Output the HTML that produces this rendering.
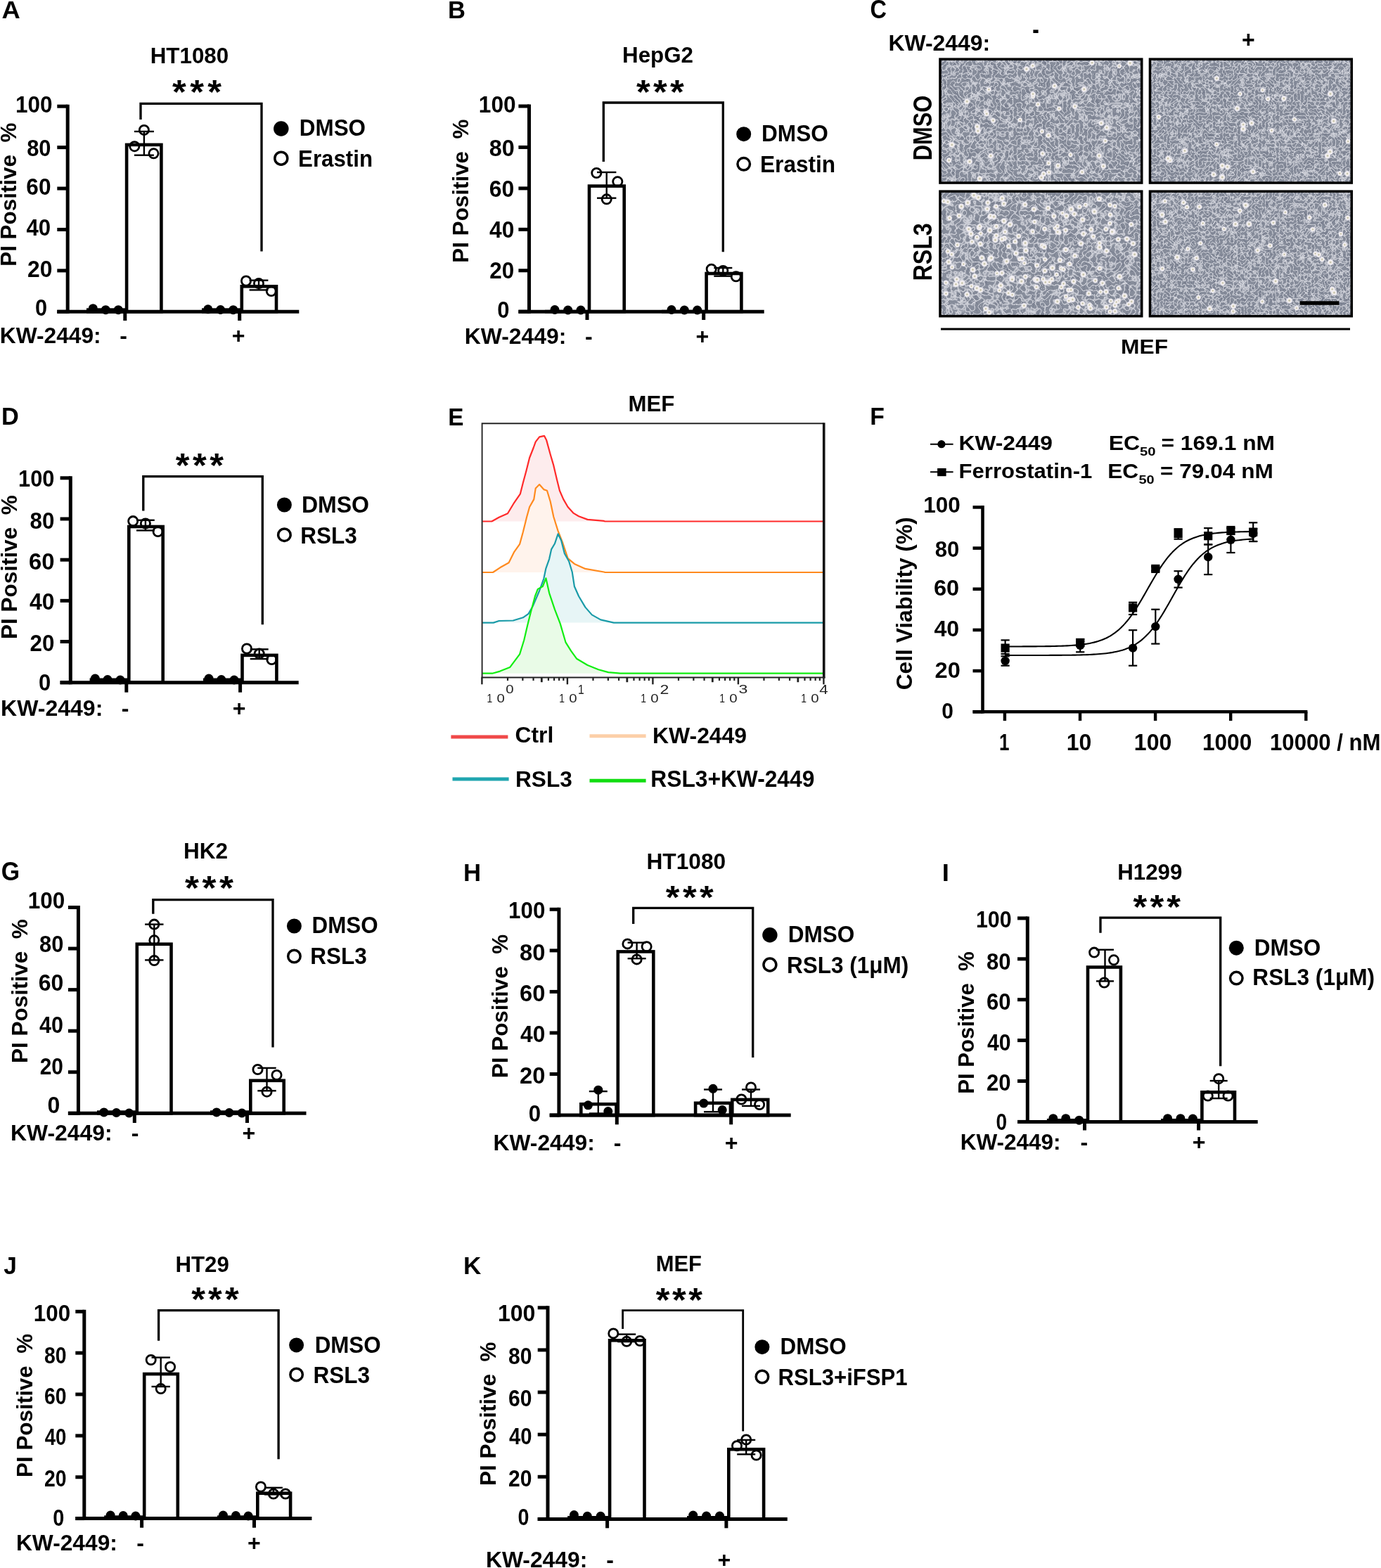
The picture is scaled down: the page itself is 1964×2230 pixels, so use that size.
<!DOCTYPE html>
<html><head><meta charset="utf-8"><title>Figure</title>
<style>html,body{margin:0;padding:0;background:#fff;} svg{display:block;} text{font-family:"Liberation Sans", Arial, sans-serif;}</style>
</head><body>
<svg width="1964" height="2230" viewBox="0 0 1964 2230">
<rect x="0" y="0" width="1964" height="2230" fill="#fff"/>
<defs><radialGradient id="rc"><stop offset="0" stop-color="#a8a592"/><stop offset="0.3" stop-color="#e8e4d4"/><stop offset="0.55" stop-color="#f7f4f6"/><stop offset="0.75" stop-color="#ece8f2" stop-opacity="0.8"/><stop offset="1" stop-color="#ffffff" stop-opacity="0"/></radialGradient><filter id="tex" x="0" y="0" width="100%" height="100%" filterUnits="objectBoundingBox" color-interpolation-filters="sRGB">
  <feTurbulence type="turbulence" baseFrequency="0.17" numOctaves="1" seed="3" result="t"/>
  <feColorMatrix in="t" type="matrix" values="0 0 0 0 0.94  0 0 0 0 0.94  0 0 0 0 0.96  -4 0 0 0 0.72" result="w"/>
  <feTurbulence type="turbulence" baseFrequency="0.17" numOctaves="1" seed="4" result="t2"/>
  <feColorMatrix in="t2" type="matrix" values="0 0 0 0 0.40  0 0 0 0 0.42  0 0 0 0 0.50  -4.5 0 0 0 0.42" result="k"/>
  <feFlood flood-color="#878d9b" result="bg"/>
  <feComposite in="k" in2="bg" operator="over" result="b1"/>
  <feComposite in="w" in2="b1" operator="over" result="b2"/>
  <feGaussianBlur in="b2" stdDeviation="0.7"/>
</filter><filter id="tex2" x="0" y="0" width="100%" height="100%" filterUnits="objectBoundingBox" color-interpolation-filters="sRGB">
  <feTurbulence type="turbulence" baseFrequency="0.2" numOctaves="1" seed="5" result="t"/>
  <feColorMatrix in="t" type="matrix" values="0 0 0 0 0.94  0 0 0 0 0.94  0 0 0 0 0.96  -4 0 0 0 0.72" result="w"/>
  <feTurbulence type="turbulence" baseFrequency="0.2" numOctaves="1" seed="6" result="t2"/>
  <feColorMatrix in="t2" type="matrix" values="0 0 0 0 0.40  0 0 0 0 0.42  0 0 0 0 0.50  -4.5 0 0 0 0.42" result="k"/>
  <feFlood flood-color="#878d9b" result="bg"/>
  <feComposite in="k" in2="bg" operator="over" result="b1"/>
  <feComposite in="w" in2="b1" operator="over" result="b2"/>
  <feGaussianBlur in="b2" stdDeviation="0.7"/>
</filter><filter id="tex3" x="0" y="0" width="100%" height="100%" filterUnits="objectBoundingBox" color-interpolation-filters="sRGB">
  <feTurbulence type="turbulence" baseFrequency="0.15" numOctaves="1" seed="7" result="t"/>
  <feColorMatrix in="t" type="matrix" values="0 0 0 0 0.94  0 0 0 0 0.94  0 0 0 0 0.96  -4 0 0 0 0.72" result="w"/>
  <feTurbulence type="turbulence" baseFrequency="0.15" numOctaves="1" seed="8" result="t2"/>
  <feColorMatrix in="t2" type="matrix" values="0 0 0 0 0.40  0 0 0 0 0.42  0 0 0 0 0.50  -4.5 0 0 0 0.42" result="k"/>
  <feFlood flood-color="#878d9b" result="bg"/>
  <feComposite in="k" in2="bg" operator="over" result="b1"/>
  <feComposite in="w" in2="b1" operator="over" result="b2"/>
  <feGaussianBlur in="b2" stdDeviation="0.7"/>
</filter><filter id="tex4" x="0" y="0" width="100%" height="100%" filterUnits="objectBoundingBox" color-interpolation-filters="sRGB">
  <feTurbulence type="turbulence" baseFrequency="0.2" numOctaves="1" seed="9" result="t"/>
  <feColorMatrix in="t" type="matrix" values="0 0 0 0 0.94  0 0 0 0 0.94  0 0 0 0 0.96  -4 0 0 0 0.72" result="w"/>
  <feTurbulence type="turbulence" baseFrequency="0.2" numOctaves="1" seed="10" result="t2"/>
  <feColorMatrix in="t2" type="matrix" values="0 0 0 0 0.40  0 0 0 0 0.42  0 0 0 0 0.50  -4.5 0 0 0 0.42" result="k"/>
  <feFlood flood-color="#878d9b" result="bg"/>
  <feComposite in="k" in2="bg" operator="over" result="b1"/>
  <feComposite in="w" in2="b1" operator="over" result="b2"/>
  <feGaussianBlur in="b2" stdDeviation="0.7"/>
</filter></defs>
<rect x="125.30" y="440.60" width="52.40" height="2.70" fill="#fff" stroke="#000" stroke-width="4.6"/>
<rect x="180.10" y="205.90" width="49.30" height="237.40" fill="#fff" stroke="#000" stroke-width="4.6"/>
<rect x="289.30" y="440.60" width="51.90" height="2.70" fill="#fff" stroke="#000" stroke-width="4.6"/>
<rect x="343.80" y="407.30" width="49.20" height="36.00" fill="#fff" stroke="#000" stroke-width="4.6"/>
<line x1="96.20" y1="148.70" x2="96.20" y2="445.80" stroke="#000" stroke-width="5.0" stroke-linecap="butt"/>
<line x1="81.30" y1="443.30" x2="425.30" y2="443.30" stroke="#000" stroke-width="5.0" stroke-linecap="butt"/>
<line x1="81.30" y1="443.30" x2="96.20" y2="443.30" stroke="#000" stroke-width="5.0" stroke-linecap="butt"/>
<line x1="81.30" y1="384.88" x2="96.20" y2="384.88" stroke="#000" stroke-width="5.0" stroke-linecap="butt"/>
<line x1="81.30" y1="326.46" x2="96.20" y2="326.46" stroke="#000" stroke-width="5.0" stroke-linecap="butt"/>
<line x1="81.30" y1="268.04" x2="96.20" y2="268.04" stroke="#000" stroke-width="5.0" stroke-linecap="butt"/>
<line x1="81.30" y1="209.62" x2="96.20" y2="209.62" stroke="#000" stroke-width="5.0" stroke-linecap="butt"/>
<line x1="81.30" y1="151.20" x2="96.20" y2="151.20" stroke="#000" stroke-width="5.0" stroke-linecap="butt"/>
<line x1="177.80" y1="443.30" x2="177.80" y2="456.00" stroke="#000" stroke-width="5.0" stroke-linecap="butt"/>
<line x1="340.70" y1="443.30" x2="340.70" y2="456.00" stroke="#000" stroke-width="5.0" stroke-linecap="butt"/>
<line x1="204.90" y1="187.00" x2="204.90" y2="220.70" stroke="#000" stroke-width="2.4" stroke-linecap="butt"/>
<line x1="190.90" y1="187.00" x2="218.90" y2="187.00" stroke="#000" stroke-width="2.4" stroke-linecap="butt"/>
<line x1="190.90" y1="220.70" x2="218.90" y2="220.70" stroke="#000" stroke-width="2.4" stroke-linecap="butt"/>
<line x1="368.00" y1="398.70" x2="368.00" y2="412.40" stroke="#000" stroke-width="2.4" stroke-linecap="butt"/>
<line x1="354.60" y1="398.70" x2="381.40" y2="398.70" stroke="#000" stroke-width="2.4" stroke-linecap="butt"/>
<line x1="354.60" y1="412.40" x2="381.40" y2="412.40" stroke="#000" stroke-width="2.4" stroke-linecap="butt"/>
<circle cx="132.30" cy="438.70" r="6.50" fill="#000" stroke="none" stroke-width="0"/>
<circle cx="150.30" cy="440.70" r="6.50" fill="#000" stroke="none" stroke-width="0"/>
<circle cx="168.30" cy="440.70" r="6.50" fill="#000" stroke="none" stroke-width="0"/>
<circle cx="295.80" cy="439.80" r="6.50" fill="#000" stroke="none" stroke-width="0"/>
<circle cx="313.60" cy="440.50" r="6.50" fill="#000" stroke="none" stroke-width="0"/>
<circle cx="331.70" cy="440.70" r="6.50" fill="#000" stroke="none" stroke-width="0"/>
<circle cx="204.90" cy="184.90" r="6.60" fill="none" stroke="#000" stroke-width="2.8"/>
<circle cx="191.30" cy="208.20" r="6.60" fill="none" stroke="#000" stroke-width="2.8"/>
<circle cx="218.50" cy="218.30" r="6.60" fill="none" stroke="#000" stroke-width="2.8"/>
<circle cx="350.00" cy="399.50" r="6.60" fill="none" stroke="#000" stroke-width="2.8"/>
<circle cx="368.00" cy="403.10" r="6.60" fill="none" stroke="#000" stroke-width="2.8"/>
<circle cx="385.80" cy="414.10" r="6.60" fill="none" stroke="#000" stroke-width="2.8"/>
<polyline points="200.00,170.00 200.00,147.30 372.00,147.30 372.00,357.50" fill="none" stroke="#000" stroke-width="3.3" stroke-linejoin="miter"/>
<text transform="translate(245.10,147.02) scale(1.0476,1)" font-size="48.38" font-weight="bold" fill="#000">*</text>
<text transform="translate(270.20,147.02) scale(1.0476,1)" font-size="48.38" font-weight="bold" fill="#000">*</text>
<text transform="translate(295.30,147.02) scale(1.0476,1)" font-size="48.38" font-weight="bold" fill="#000">*</text>
<text transform="translate(21.93,159.99) scale(0.9631,1)" font-size="32.70" font-weight="bold" fill="#000">100</text>
<text transform="translate(38.14,221.84) scale(0.9434,1)" font-size="32.70" font-weight="bold" fill="#000">80</text>
<text transform="translate(37.31,276.99) scale(0.9669,1)" font-size="32.70" font-weight="bold" fill="#000">60</text>
<text transform="translate(37.50,334.89) scale(0.9530,1)" font-size="32.70" font-weight="bold" fill="#000">40</text>
<text transform="translate(39.11,394.14) scale(0.9728,1)" font-size="32.70" font-weight="bold" fill="#000">20</text>
<text transform="translate(49.94,449.24) scale(0.9407,1)" font-size="32.70" font-weight="bold" fill="#000">0</text>
<circle cx="399.80" cy="183.00" r="10.75" fill="#000" stroke="none" stroke-width="0"/>
<circle cx="399.80" cy="225.20" r="9.00" fill="none" stroke="#000" stroke-width="3.5"/>
<text transform="translate(425.84,192.79) scale(0.9695,1)" font-size="32.40" font-weight="bold" fill="#000">DMSO</text>
<text transform="translate(424.05,237.49) scale(0.9647,1)" font-size="32.40" font-weight="bold" fill="#000">Erastin</text>
<text transform="translate(213.64,90.17) scale(0.9837,1)" font-size="31.90" font-weight="bold" fill="#000">HT1080</text>
<text transform="translate(2.43,25.80) scale(1.0310,1)" font-size="35.27" font-weight="bold" fill="#000">A</text>
<text transform="translate(-0.28,487.78) scale(0.9890,1)" font-size="32.10" font-weight="bold" fill="#000">KW-2449:</text>
<text transform="translate(170.23,487.78)" font-size="32.10" font-weight="bold" fill="#000">-</text>
<text transform="translate(329.72,487.78)" font-size="32.10" font-weight="bold" fill="#000">+</text>
<text transform="translate(22.80,378.76) rotate(-90) scale(0.9814,1)" font-size="32.00" font-weight="bold" fill="#000">PI&#160;Positive&#160;&#160;%</text>
<rect x="777.30" y="443.10" width="58.40" height="0.10" fill="#fff" stroke="#000" stroke-width="4.6"/>
<rect x="838.00" y="264.60" width="49.70" height="178.60" fill="#fff" stroke="#000" stroke-width="4.6"/>
<rect x="943.30" y="443.10" width="58.40" height="0.10" fill="#fff" stroke="#000" stroke-width="4.6"/>
<rect x="1004.60" y="389.00" width="49.80" height="54.20" fill="#fff" stroke="#000" stroke-width="4.6"/>
<line x1="752.50" y1="148.50" x2="752.50" y2="445.70" stroke="#000" stroke-width="5.0" stroke-linecap="butt"/>
<line x1="737.40" y1="443.20" x2="1086.70" y2="443.20" stroke="#000" stroke-width="5.0" stroke-linecap="butt"/>
<line x1="737.40" y1="443.20" x2="752.50" y2="443.20" stroke="#000" stroke-width="5.0" stroke-linecap="butt"/>
<line x1="737.40" y1="384.76" x2="752.50" y2="384.76" stroke="#000" stroke-width="5.0" stroke-linecap="butt"/>
<line x1="737.40" y1="326.32" x2="752.50" y2="326.32" stroke="#000" stroke-width="5.0" stroke-linecap="butt"/>
<line x1="737.40" y1="267.88" x2="752.50" y2="267.88" stroke="#000" stroke-width="5.0" stroke-linecap="butt"/>
<line x1="737.40" y1="209.44" x2="752.50" y2="209.44" stroke="#000" stroke-width="5.0" stroke-linecap="butt"/>
<line x1="737.40" y1="151.00" x2="752.50" y2="151.00" stroke="#000" stroke-width="5.0" stroke-linecap="butt"/>
<line x1="835.00" y1="443.20" x2="835.00" y2="455.00" stroke="#000" stroke-width="5.0" stroke-linecap="butt"/>
<line x1="1000.70" y1="443.20" x2="1000.70" y2="455.00" stroke="#000" stroke-width="5.0" stroke-linecap="butt"/>
<line x1="862.70" y1="245.00" x2="862.70" y2="281.70" stroke="#000" stroke-width="2.4" stroke-linecap="butt"/>
<line x1="849.00" y1="245.00" x2="876.40" y2="245.00" stroke="#000" stroke-width="2.4" stroke-linecap="butt"/>
<line x1="849.00" y1="281.70" x2="876.40" y2="281.70" stroke="#000" stroke-width="2.4" stroke-linecap="butt"/>
<line x1="1028.30" y1="381.00" x2="1028.30" y2="392.70" stroke="#000" stroke-width="2.4" stroke-linecap="butt"/>
<line x1="1015.30" y1="381.00" x2="1041.30" y2="381.00" stroke="#000" stroke-width="2.4" stroke-linecap="butt"/>
<line x1="1015.30" y1="392.70" x2="1041.30" y2="392.70" stroke="#000" stroke-width="2.4" stroke-linecap="butt"/>
<circle cx="789.00" cy="440.50" r="6.50" fill="#000" stroke="none" stroke-width="0"/>
<circle cx="807.70" cy="441.00" r="6.50" fill="#000" stroke="none" stroke-width="0"/>
<circle cx="826.00" cy="441.00" r="6.50" fill="#000" stroke="none" stroke-width="0"/>
<circle cx="955.00" cy="440.50" r="6.50" fill="#000" stroke="none" stroke-width="0"/>
<circle cx="973.30" cy="441.00" r="6.50" fill="#000" stroke="none" stroke-width="0"/>
<circle cx="991.70" cy="441.00" r="6.50" fill="#000" stroke="none" stroke-width="0"/>
<circle cx="848.30" cy="246.00" r="6.60" fill="none" stroke="#000" stroke-width="2.8"/>
<circle cx="878.30" cy="258.30" r="6.60" fill="none" stroke="#000" stroke-width="2.8"/>
<circle cx="862.70" cy="283.30" r="6.60" fill="none" stroke="#000" stroke-width="2.8"/>
<circle cx="1011.70" cy="382.70" r="6.60" fill="none" stroke="#000" stroke-width="2.8"/>
<circle cx="1028.30" cy="385.00" r="6.60" fill="none" stroke="#000" stroke-width="2.8"/>
<circle cx="1046.70" cy="393.30" r="6.60" fill="none" stroke="#000" stroke-width="2.8"/>
<polyline points="858.30,230.00 858.30,146.00 1028.30,146.00 1028.30,358.30" fill="none" stroke="#000" stroke-width="3.3" stroke-linejoin="miter"/>
<text transform="translate(905.00,146.66) scale(1.0588,1)" font-size="47.87" font-weight="bold" fill="#000">*</text>
<text transform="translate(929.00,146.66) scale(1.0588,1)" font-size="47.87" font-weight="bold" fill="#000">*</text>
<text transform="translate(953.00,146.66) scale(1.0588,1)" font-size="47.87" font-weight="bold" fill="#000">*</text>
<text transform="translate(680.82,159.89) scale(0.9670,1)" font-size="32.70" font-weight="bold" fill="#000">100</text>
<text transform="translate(695.79,222.14) scale(0.9904,1)" font-size="32.70" font-weight="bold" fill="#000">80</text>
<text transform="translate(695.70,279.54) scale(0.9787,1)" font-size="32.70" font-weight="bold" fill="#000">60</text>
<text transform="translate(696.00,337.94) scale(0.9701,1)" font-size="32.70" font-weight="bold" fill="#000">40</text>
<text transform="translate(696.32,396.24) scale(0.9611,1)" font-size="32.70" font-weight="bold" fill="#000">20</text>
<text transform="translate(707.33,451.59) scale(0.9470,1)" font-size="32.70" font-weight="bold" fill="#000">0</text>
<circle cx="1057.70" cy="190.70" r="10.50" fill="#000" stroke="none" stroke-width="0"/>
<circle cx="1057.70" cy="233.30" r="8.75" fill="none" stroke="#000" stroke-width="3.5"/>
<text transform="translate(1083.02,201.29) scale(0.9759,1)" font-size="32.40" font-weight="bold" fill="#000">DMSO</text>
<text transform="translate(1081.02,245.49) scale(0.9760,1)" font-size="32.40" font-weight="bold" fill="#000">Erastin</text>
<text transform="translate(885.04,89.28) scale(0.9817,1)" font-size="31.90" font-weight="bold" fill="#000">HepG2</text>
<text transform="translate(637.04,25.80) scale(0.9720,1)" font-size="35.56" font-weight="bold" fill="#000">B</text>
<text transform="translate(660.71,488.53) scale(0.9932,1)" font-size="32.10" font-weight="bold" fill="#000">KW-2449:</text>
<text transform="translate(832.03,488.53)" font-size="32.10" font-weight="bold" fill="#000">-</text>
<text transform="translate(989.52,488.53)" font-size="32.10" font-weight="bold" fill="#000">+</text>
<text transform="translate(666.20,373.66) rotate(-90) scale(0.9809,1)" font-size="32.00" font-weight="bold" fill="#000">PI&#160;Positive&#160;&#160;%</text>
<rect x="129.90" y="966.80" width="50.80" height="3.90" fill="#fff" stroke="#000" stroke-width="4.6"/>
<rect x="183.30" y="749.00" width="48.40" height="221.70" fill="#fff" stroke="#000" stroke-width="4.6"/>
<rect x="291.30" y="966.80" width="50.40" height="3.90" fill="#fff" stroke="#000" stroke-width="4.6"/>
<rect x="344.50" y="931.90" width="48.90" height="38.80" fill="#fff" stroke="#000" stroke-width="4.6"/>
<line x1="100.30" y1="677.30" x2="100.30" y2="973.20" stroke="#000" stroke-width="5.0" stroke-linecap="butt"/>
<line x1="85.60" y1="970.70" x2="424.70" y2="970.70" stroke="#000" stroke-width="5.0" stroke-linecap="butt"/>
<line x1="85.60" y1="970.70" x2="100.30" y2="970.70" stroke="#000" stroke-width="5.0" stroke-linecap="butt"/>
<line x1="85.60" y1="912.52" x2="100.30" y2="912.52" stroke="#000" stroke-width="5.0" stroke-linecap="butt"/>
<line x1="85.60" y1="854.34" x2="100.30" y2="854.34" stroke="#000" stroke-width="5.0" stroke-linecap="butt"/>
<line x1="85.60" y1="796.16" x2="100.30" y2="796.16" stroke="#000" stroke-width="5.0" stroke-linecap="butt"/>
<line x1="85.60" y1="737.98" x2="100.30" y2="737.98" stroke="#000" stroke-width="5.0" stroke-linecap="butt"/>
<line x1="85.60" y1="679.80" x2="100.30" y2="679.80" stroke="#000" stroke-width="5.0" stroke-linecap="butt"/>
<line x1="179.80" y1="970.70" x2="179.80" y2="984.70" stroke="#000" stroke-width="5.0" stroke-linecap="butt"/>
<line x1="341.60" y1="970.70" x2="341.60" y2="984.70" stroke="#000" stroke-width="5.0" stroke-linecap="butt"/>
<line x1="206.90" y1="739.80" x2="206.90" y2="754.40" stroke="#000" stroke-width="2.4" stroke-linecap="butt"/>
<line x1="194.00" y1="739.80" x2="219.80" y2="739.80" stroke="#000" stroke-width="2.4" stroke-linecap="butt"/>
<line x1="194.00" y1="754.40" x2="219.80" y2="754.40" stroke="#000" stroke-width="2.4" stroke-linecap="butt"/>
<line x1="368.70" y1="923.40" x2="368.70" y2="937.10" stroke="#000" stroke-width="2.4" stroke-linecap="butt"/>
<line x1="355.70" y1="923.40" x2="381.70" y2="923.40" stroke="#000" stroke-width="2.4" stroke-linecap="butt"/>
<line x1="355.70" y1="937.10" x2="381.70" y2="937.10" stroke="#000" stroke-width="2.4" stroke-linecap="butt"/>
<circle cx="135.30" cy="965.00" r="6.50" fill="#000" stroke="none" stroke-width="0"/>
<circle cx="153.00" cy="966.50" r="6.50" fill="#000" stroke="none" stroke-width="0"/>
<circle cx="171.00" cy="967.00" r="6.50" fill="#000" stroke="none" stroke-width="0"/>
<circle cx="297.00" cy="965.00" r="6.50" fill="#000" stroke="none" stroke-width="0"/>
<circle cx="314.80" cy="966.50" r="6.50" fill="#000" stroke="none" stroke-width="0"/>
<circle cx="333.00" cy="967.00" r="6.50" fill="#000" stroke="none" stroke-width="0"/>
<circle cx="189.20" cy="741.10" r="6.60" fill="none" stroke="#000" stroke-width="2.8"/>
<circle cx="206.90" cy="744.50" r="6.60" fill="none" stroke="#000" stroke-width="2.8"/>
<circle cx="224.60" cy="756.00" r="6.60" fill="none" stroke="#000" stroke-width="2.8"/>
<circle cx="351.00" cy="922.50" r="6.60" fill="none" stroke="#000" stroke-width="2.8"/>
<circle cx="368.70" cy="929.60" r="6.60" fill="none" stroke="#000" stroke-width="2.8"/>
<circle cx="386.40" cy="938.00" r="6.60" fill="none" stroke="#000" stroke-width="2.8"/>
<polyline points="203.80,726.40 203.80,677.60 373.30,677.60 373.30,888.20" fill="none" stroke="#000" stroke-width="3.3" stroke-linejoin="miter"/>
<text transform="translate(249.80,677.66) scale(1.0588,1)" font-size="47.87" font-weight="bold" fill="#000">*</text>
<text transform="translate(274.00,677.66) scale(1.0588,1)" font-size="47.87" font-weight="bold" fill="#000">*</text>
<text transform="translate(298.20,677.66) scale(1.0588,1)" font-size="47.87" font-weight="bold" fill="#000">*</text>
<text transform="translate(26.08,691.79) scale(0.9416,1)" font-size="32.70" font-weight="bold" fill="#000">100</text>
<text transform="translate(42.62,751.69) scale(0.9581,1)" font-size="32.70" font-weight="bold" fill="#000">80</text>
<text transform="translate(40.97,810.09) scale(1.0051,1)" font-size="32.70" font-weight="bold" fill="#000">60</text>
<text transform="translate(42.00,866.84) scale(0.9758,1)" font-size="32.70" font-weight="bold" fill="#000">40</text>
<text transform="translate(42.62,926.14) scale(0.9581,1)" font-size="32.70" font-weight="bold" fill="#000">20</text>
<text transform="translate(55.03,981.69) scale(0.9470,1)" font-size="32.70" font-weight="bold" fill="#000">0</text>
<circle cx="404.40" cy="718.00" r="10.50" fill="#000" stroke="none" stroke-width="0"/>
<circle cx="404.40" cy="760.70" r="8.75" fill="none" stroke="#000" stroke-width="3.5"/>
<text transform="translate(428.90,729.04) scale(0.9897,1)" font-size="32.40" font-weight="bold" fill="#000">DMSO</text>
<text transform="translate(427.33,772.54) scale(0.9714,1)" font-size="32.40" font-weight="bold" fill="#000">RSL3</text>
<text transform="translate(2.05,603.80) scale(0.9753,1)" font-size="35.27" font-weight="bold" fill="#000">D</text>
<text transform="translate(1.00,1018.18) scale(0.9982,1)" font-size="32.10" font-weight="bold" fill="#000">KW-2449:</text>
<text transform="translate(172.73,1018.18)" font-size="32.10" font-weight="bold" fill="#000">-</text>
<text transform="translate(330.72,1018.18)" font-size="32.10" font-weight="bold" fill="#000">+</text>
<text transform="translate(23.80,908.97) rotate(-90) scale(0.9838,1)" font-size="32.00" font-weight="bold" fill="#000">PI&#160;Positive&#160;&#160;%</text>
<rect x="140.30" y="1581.60" width="52.40" height="1.70" fill="#fff" stroke="#000" stroke-width="4.6"/>
<rect x="194.80" y="1342.70" width="48.70" height="240.60" fill="#fff" stroke="#000" stroke-width="4.6"/>
<rect x="301.30" y="1581.60" width="52.40" height="1.70" fill="#fff" stroke="#000" stroke-width="4.6"/>
<rect x="356.30" y="1536.80" width="47.40" height="46.50" fill="#fff" stroke="#000" stroke-width="4.6"/>
<line x1="111.40" y1="1288.00" x2="111.40" y2="1585.80" stroke="#000" stroke-width="5.0" stroke-linecap="butt"/>
<line x1="96.90" y1="1583.30" x2="435.50" y2="1583.30" stroke="#000" stroke-width="5.0" stroke-linecap="butt"/>
<line x1="96.90" y1="1583.30" x2="111.40" y2="1583.30" stroke="#000" stroke-width="5.0" stroke-linecap="butt"/>
<line x1="96.90" y1="1524.74" x2="111.40" y2="1524.74" stroke="#000" stroke-width="5.0" stroke-linecap="butt"/>
<line x1="96.90" y1="1466.18" x2="111.40" y2="1466.18" stroke="#000" stroke-width="5.0" stroke-linecap="butt"/>
<line x1="96.90" y1="1407.62" x2="111.40" y2="1407.62" stroke="#000" stroke-width="5.0" stroke-linecap="butt"/>
<line x1="96.90" y1="1349.06" x2="111.40" y2="1349.06" stroke="#000" stroke-width="5.0" stroke-linecap="butt"/>
<line x1="96.90" y1="1290.50" x2="111.40" y2="1290.50" stroke="#000" stroke-width="5.0" stroke-linecap="butt"/>
<line x1="191.30" y1="1583.30" x2="191.30" y2="1597.00" stroke="#000" stroke-width="5.0" stroke-linecap="butt"/>
<line x1="351.50" y1="1583.30" x2="351.50" y2="1597.00" stroke="#000" stroke-width="5.0" stroke-linecap="butt"/>
<line x1="219.30" y1="1314.60" x2="219.30" y2="1365.40" stroke="#000" stroke-width="2.4" stroke-linecap="butt"/>
<line x1="206.10" y1="1314.60" x2="232.50" y2="1314.60" stroke="#000" stroke-width="2.4" stroke-linecap="butt"/>
<line x1="206.10" y1="1365.40" x2="232.50" y2="1365.40" stroke="#000" stroke-width="2.4" stroke-linecap="butt"/>
<line x1="379.50" y1="1518.90" x2="379.50" y2="1551.30" stroke="#000" stroke-width="2.4" stroke-linecap="butt"/>
<line x1="366.30" y1="1518.90" x2="392.70" y2="1518.90" stroke="#000" stroke-width="2.4" stroke-linecap="butt"/>
<line x1="366.30" y1="1551.30" x2="392.70" y2="1551.30" stroke="#000" stroke-width="2.4" stroke-linecap="butt"/>
<circle cx="147.80" cy="1581.90" r="6.50" fill="#000" stroke="none" stroke-width="0"/>
<circle cx="165.50" cy="1582.50" r="6.50" fill="#000" stroke="none" stroke-width="0"/>
<circle cx="183.60" cy="1583.00" r="6.50" fill="#000" stroke="none" stroke-width="0"/>
<circle cx="308.00" cy="1581.90" r="6.50" fill="#000" stroke="none" stroke-width="0"/>
<circle cx="326.00" cy="1582.50" r="6.50" fill="#000" stroke="none" stroke-width="0"/>
<circle cx="344.00" cy="1583.00" r="6.50" fill="#000" stroke="none" stroke-width="0"/>
<circle cx="219.30" cy="1314.60" r="6.60" fill="none" stroke="#000" stroke-width="2.8"/>
<circle cx="219.30" cy="1337.30" r="6.60" fill="none" stroke="#000" stroke-width="2.8"/>
<circle cx="219.30" cy="1366.00" r="6.60" fill="none" stroke="#000" stroke-width="2.8"/>
<circle cx="366.50" cy="1521.00" r="6.60" fill="none" stroke="#000" stroke-width="2.8"/>
<circle cx="393.50" cy="1528.90" r="6.60" fill="none" stroke="#000" stroke-width="2.8"/>
<circle cx="379.50" cy="1552.70" r="6.60" fill="none" stroke="#000" stroke-width="2.8"/>
<polyline points="217.80,1299.80 217.80,1279.70 388.00,1279.70 388.00,1489.50" fill="none" stroke="#000" stroke-width="3.3" stroke-linejoin="miter"/>
<text transform="translate(263.00,1279.20) scale(1.0526,1)" font-size="48.64" font-weight="bold" fill="#000">*</text>
<text transform="translate(287.50,1279.20) scale(1.0526,1)" font-size="48.64" font-weight="bold" fill="#000">*</text>
<text transform="translate(312.00,1279.20) scale(1.0526,1)" font-size="48.64" font-weight="bold" fill="#000">*</text>
<text transform="translate(39.73,1291.99) scale(0.9631,1)" font-size="32.70" font-weight="bold" fill="#000">100</text>
<text transform="translate(56.04,1353.99) scale(0.9434,1)" font-size="32.70" font-weight="bold" fill="#000">80</text>
<text transform="translate(54.80,1408.79) scale(0.9787,1)" font-size="32.70" font-weight="bold" fill="#000">60</text>
<text transform="translate(56.00,1469.19) scale(0.9330,1)" font-size="32.70" font-weight="bold" fill="#000">40</text>
<text transform="translate(56.67,1528.44) scale(0.9140,1)" font-size="32.70" font-weight="bold" fill="#000">20</text>
<text transform="translate(67.50,1582.94) scale(0.9786,1)" font-size="32.70" font-weight="bold" fill="#000">0</text>
<circle cx="418.40" cy="1317.00" r="10.50" fill="#000" stroke="none" stroke-width="0"/>
<circle cx="418.40" cy="1360.00" r="8.75" fill="none" stroke="#000" stroke-width="3.5"/>
<text transform="translate(443.54,1327.34) scale(0.9674,1)" font-size="32.40" font-weight="bold" fill="#000">DMSO</text>
<text transform="translate(441.33,1371.24) scale(0.9714,1)" font-size="32.40" font-weight="bold" fill="#000">RSL3</text>
<text transform="translate(261.03,1220.66) scale(0.9881,1)" font-size="31.90" font-weight="bold" fill="#000">HK2</text>
<text transform="translate(1.64,1251.93) scale(0.9262,1)" font-size="36.59" font-weight="bold" fill="#000">G</text>
<text transform="translate(15.01,1621.53) scale(0.9932,1)" font-size="32.10" font-weight="bold" fill="#000">KW-2449:</text>
<text transform="translate(186.73,1621.53)" font-size="32.10" font-weight="bold" fill="#000">-</text>
<text transform="translate(344.52,1621.53)" font-size="32.10" font-weight="bold" fill="#000">+</text>
<text transform="translate(38.50,1511.97) rotate(-90) scale(0.9843,1)" font-size="32.00" font-weight="bold" fill="#000">PI&#160;Positive&#160;&#160;%</text>
<rect x="826.30" y="1570.30" width="50.20" height="15.80" fill="#fff" stroke="#000" stroke-width="4.6"/>
<rect x="878.80" y="1353.40" width="50.50" height="232.70" fill="#fff" stroke="#000" stroke-width="4.6"/>
<rect x="989.10" y="1568.80" width="49.80" height="17.30" fill="#fff" stroke="#000" stroke-width="4.6"/>
<rect x="1041.30" y="1563.90" width="50.90" height="22.20" fill="#fff" stroke="#000" stroke-width="4.6"/>
<line x1="794.90" y1="1290.80" x2="794.90" y2="1588.60" stroke="#000" stroke-width="5.0" stroke-linecap="butt"/>
<line x1="781.70" y1="1586.10" x2="1124.70" y2="1586.10" stroke="#000" stroke-width="5.0" stroke-linecap="butt"/>
<line x1="781.70" y1="1586.10" x2="794.90" y2="1586.10" stroke="#000" stroke-width="5.0" stroke-linecap="butt"/>
<line x1="781.70" y1="1527.54" x2="794.90" y2="1527.54" stroke="#000" stroke-width="5.0" stroke-linecap="butt"/>
<line x1="781.70" y1="1468.98" x2="794.90" y2="1468.98" stroke="#000" stroke-width="5.0" stroke-linecap="butt"/>
<line x1="781.70" y1="1410.42" x2="794.90" y2="1410.42" stroke="#000" stroke-width="5.0" stroke-linecap="butt"/>
<line x1="781.70" y1="1351.86" x2="794.90" y2="1351.86" stroke="#000" stroke-width="5.0" stroke-linecap="butt"/>
<line x1="781.70" y1="1293.30" x2="794.90" y2="1293.30" stroke="#000" stroke-width="5.0" stroke-linecap="butt"/>
<line x1="877.30" y1="1586.10" x2="877.30" y2="1599.30" stroke="#000" stroke-width="5.0" stroke-linecap="butt"/>
<line x1="1039.70" y1="1586.10" x2="1039.70" y2="1599.30" stroke="#000" stroke-width="5.0" stroke-linecap="butt"/>
<line x1="850.80" y1="1552.10" x2="850.80" y2="1583.50" stroke="#000" stroke-width="2.4" stroke-linecap="butt"/>
<line x1="837.80" y1="1552.10" x2="863.80" y2="1552.10" stroke="#000" stroke-width="2.4" stroke-linecap="butt"/>
<line x1="837.80" y1="1583.50" x2="863.80" y2="1583.50" stroke="#000" stroke-width="2.4" stroke-linecap="butt"/>
<line x1="905.60" y1="1340.60" x2="905.60" y2="1363.20" stroke="#000" stroke-width="2.4" stroke-linecap="butt"/>
<line x1="892.60" y1="1340.60" x2="918.60" y2="1340.60" stroke="#000" stroke-width="2.4" stroke-linecap="butt"/>
<line x1="892.60" y1="1363.20" x2="918.60" y2="1363.20" stroke="#000" stroke-width="2.4" stroke-linecap="butt"/>
<line x1="1014.00" y1="1549.50" x2="1014.00" y2="1581.20" stroke="#000" stroke-width="2.4" stroke-linecap="butt"/>
<line x1="1001.00" y1="1549.50" x2="1027.00" y2="1549.50" stroke="#000" stroke-width="2.4" stroke-linecap="butt"/>
<line x1="1001.00" y1="1581.20" x2="1027.00" y2="1581.20" stroke="#000" stroke-width="2.4" stroke-linecap="butt"/>
<line x1="1068.00" y1="1549.50" x2="1068.00" y2="1572.90" stroke="#000" stroke-width="2.4" stroke-linecap="butt"/>
<line x1="1055.00" y1="1549.50" x2="1081.00" y2="1549.50" stroke="#000" stroke-width="2.4" stroke-linecap="butt"/>
<line x1="1055.00" y1="1572.90" x2="1081.00" y2="1572.90" stroke="#000" stroke-width="2.4" stroke-linecap="butt"/>
<circle cx="850.80" cy="1550.20" r="6.50" fill="#000" stroke="none" stroke-width="0"/>
<circle cx="836.40" cy="1571.80" r="6.50" fill="#000" stroke="none" stroke-width="0"/>
<circle cx="864.80" cy="1580.50" r="6.50" fill="#000" stroke="none" stroke-width="0"/>
<circle cx="1014.00" cy="1548.30" r="6.50" fill="#000" stroke="none" stroke-width="0"/>
<circle cx="1000.80" cy="1569.10" r="6.50" fill="#000" stroke="none" stroke-width="0"/>
<circle cx="1027.20" cy="1578.60" r="6.50" fill="#000" stroke="none" stroke-width="0"/>
<circle cx="892.40" cy="1342.40" r="6.60" fill="none" stroke="#000" stroke-width="2.8"/>
<circle cx="919.60" cy="1346.20" r="6.60" fill="none" stroke="#000" stroke-width="2.8"/>
<circle cx="905.60" cy="1364.40" r="6.60" fill="none" stroke="#000" stroke-width="2.8"/>
<circle cx="1068.00" cy="1546.50" r="6.60" fill="none" stroke="#000" stroke-width="2.8"/>
<circle cx="1054.40" cy="1563.50" r="6.60" fill="none" stroke="#000" stroke-width="2.8"/>
<circle cx="1080.10" cy="1571.00" r="6.60" fill="none" stroke="#000" stroke-width="2.8"/>
<polyline points="900.70,1314.00 900.70,1291.40 1070.70,1291.40 1070.70,1504.10" fill="none" stroke="#000" stroke-width="3.3" stroke-linejoin="miter"/>
<text transform="translate(946.80,1292.06) scale(1.0879,1)" font-size="46.59" font-weight="bold" fill="#000">*</text>
<text transform="translate(970.90,1292.06) scale(1.0879,1)" font-size="46.59" font-weight="bold" fill="#000">*</text>
<text transform="translate(995.00,1292.06) scale(1.0879,1)" font-size="46.59" font-weight="bold" fill="#000">*</text>
<text transform="translate(723.04,1306.49) scale(0.9592,1)" font-size="32.70" font-weight="bold" fill="#000">100</text>
<text transform="translate(739.08,1365.94)" font-size="32.70" font-weight="bold" fill="#000">80</text>
<text transform="translate(739.08,1423.59)" font-size="32.70" font-weight="bold" fill="#000">60</text>
<text transform="translate(740.10,1482.09) scale(0.9701,1)" font-size="32.70" font-weight="bold" fill="#000">40</text>
<text transform="translate(739.08,1540.69)" font-size="32.70" font-weight="bold" fill="#000">20</text>
<text transform="translate(751.63,1595.49) scale(0.9533,1)" font-size="32.70" font-weight="bold" fill="#000">0</text>
<circle cx="1094.90" cy="1329.80" r="10.70" fill="#000" stroke="none" stroke-width="0"/>
<circle cx="1094.90" cy="1372.00" r="8.95" fill="none" stroke="#000" stroke-width="3.5"/>
<text transform="translate(1120.83,1339.94) scale(0.9727,1)" font-size="32.40" font-weight="bold" fill="#000">DMSO</text>
<text transform="translate(1119.03,1384.05) scale(0.9724,1)" font-size="32.40" font-weight="bold" fill="#000">RSL3&#160;(1μM)</text>
<text transform="translate(919.42,1235.72) scale(0.9945,1)" font-size="31.90" font-weight="bold" fill="#000">HT1080</text>
<text transform="translate(659.03,1252.80) scale(0.9837,1)" font-size="35.27" font-weight="bold" fill="#000">H</text>
<text transform="translate(701.51,1635.88) scale(0.9911,1)" font-size="32.10" font-weight="bold" fill="#000">KW-2449:</text>
<text transform="translate(872.73,1635.88)" font-size="32.10" font-weight="bold" fill="#000">-</text>
<text transform="translate(1030.72,1635.88)" font-size="32.10" font-weight="bold" fill="#000">+</text>
<text transform="translate(721.90,1533.27) rotate(-90) scale(0.9829,1)" font-size="32.00" font-weight="bold" fill="#000">PI&#160;Positive&#160;&#160;%</text>
<rect x="1491.20" y="1593.30" width="53.00" height="2.10" fill="#fff" stroke="#000" stroke-width="4.6"/>
<rect x="1547.00" y="1375.50" width="46.90" height="219.90" fill="#fff" stroke="#000" stroke-width="4.6"/>
<rect x="1653.30" y="1593.30" width="53.40" height="2.10" fill="#fff" stroke="#000" stroke-width="4.6"/>
<rect x="1709.40" y="1553.30" width="46.60" height="42.10" fill="#fff" stroke="#000" stroke-width="4.6"/>
<line x1="1461.30" y1="1303.40" x2="1461.30" y2="1597.90" stroke="#000" stroke-width="5.0" stroke-linecap="butt"/>
<line x1="1447.00" y1="1595.40" x2="1788.70" y2="1595.40" stroke="#000" stroke-width="5.0" stroke-linecap="butt"/>
<line x1="1447.00" y1="1595.40" x2="1461.30" y2="1595.40" stroke="#000" stroke-width="5.0" stroke-linecap="butt"/>
<line x1="1447.00" y1="1537.50" x2="1461.30" y2="1537.50" stroke="#000" stroke-width="5.0" stroke-linecap="butt"/>
<line x1="1447.00" y1="1479.60" x2="1461.30" y2="1479.60" stroke="#000" stroke-width="5.0" stroke-linecap="butt"/>
<line x1="1447.00" y1="1421.70" x2="1461.30" y2="1421.70" stroke="#000" stroke-width="5.0" stroke-linecap="butt"/>
<line x1="1447.00" y1="1363.80" x2="1461.30" y2="1363.80" stroke="#000" stroke-width="5.0" stroke-linecap="butt"/>
<line x1="1447.00" y1="1305.90" x2="1461.30" y2="1305.90" stroke="#000" stroke-width="5.0" stroke-linecap="butt"/>
<line x1="1542.50" y1="1595.40" x2="1542.50" y2="1607.50" stroke="#000" stroke-width="5.0" stroke-linecap="butt"/>
<line x1="1704.60" y1="1595.40" x2="1704.60" y2="1607.50" stroke="#000" stroke-width="5.0" stroke-linecap="butt"/>
<line x1="1571.50" y1="1350.70" x2="1571.50" y2="1395.40" stroke="#000" stroke-width="2.4" stroke-linecap="butt"/>
<line x1="1559.00" y1="1350.70" x2="1584.00" y2="1350.70" stroke="#000" stroke-width="2.4" stroke-linecap="butt"/>
<line x1="1559.00" y1="1395.40" x2="1584.00" y2="1395.40" stroke="#000" stroke-width="2.4" stroke-linecap="butt"/>
<line x1="1733.20" y1="1537.10" x2="1733.20" y2="1562.10" stroke="#000" stroke-width="2.4" stroke-linecap="butt"/>
<line x1="1720.70" y1="1537.10" x2="1745.70" y2="1537.10" stroke="#000" stroke-width="2.4" stroke-linecap="butt"/>
<line x1="1720.70" y1="1562.10" x2="1745.70" y2="1562.10" stroke="#000" stroke-width="2.4" stroke-linecap="butt"/>
<circle cx="1497.80" cy="1590.70" r="6.50" fill="#000" stroke="none" stroke-width="0"/>
<circle cx="1515.70" cy="1590.70" r="6.50" fill="#000" stroke="none" stroke-width="0"/>
<circle cx="1534.70" cy="1593.20" r="6.50" fill="#000" stroke="none" stroke-width="0"/>
<circle cx="1660.60" cy="1590.70" r="6.50" fill="#000" stroke="none" stroke-width="0"/>
<circle cx="1678.90" cy="1590.70" r="6.50" fill="#000" stroke="none" stroke-width="0"/>
<circle cx="1696.40" cy="1591.00" r="6.50" fill="#000" stroke="none" stroke-width="0"/>
<circle cx="1556.10" cy="1354.60" r="6.60" fill="none" stroke="#000" stroke-width="2.8"/>
<circle cx="1584.00" cy="1365.30" r="6.60" fill="none" stroke="#000" stroke-width="2.8"/>
<circle cx="1570.40" cy="1397.50" r="6.60" fill="none" stroke="#000" stroke-width="2.8"/>
<circle cx="1733.20" cy="1534.20" r="6.60" fill="none" stroke="#000" stroke-width="2.8"/>
<circle cx="1717.80" cy="1558.50" r="6.60" fill="none" stroke="#000" stroke-width="2.8"/>
<circle cx="1746.50" cy="1558.50" r="6.60" fill="none" stroke="#000" stroke-width="2.8"/>
<polyline points="1565.00,1326.70 1565.00,1305.20 1735.70,1305.20 1735.70,1516.30" fill="none" stroke="#000" stroke-width="3.3" stroke-linejoin="miter"/>
<text transform="translate(1611.60,1305.78) scale(1.0645,1)" font-size="47.62" font-weight="bold" fill="#000">*</text>
<text transform="translate(1635.40,1305.78) scale(1.0645,1)" font-size="47.62" font-weight="bold" fill="#000">*</text>
<text transform="translate(1659.20,1305.78) scale(1.0645,1)" font-size="47.62" font-weight="bold" fill="#000">*</text>
<text transform="translate(1387.90,1319.09) scale(0.9299,1)" font-size="32.70" font-weight="bold" fill="#000">100</text>
<text transform="translate(1403.03,1379.09) scale(0.9493,1)" font-size="32.70" font-weight="bold" fill="#000">80</text>
<text transform="translate(1403.03,1435.74) scale(0.9493,1)" font-size="32.70" font-weight="bold" fill="#000">60</text>
<text transform="translate(1404.00,1493.54) scale(0.9216,1)" font-size="32.70" font-weight="bold" fill="#000">40</text>
<text transform="translate(1403.03,1550.79) scale(0.9493,1)" font-size="32.70" font-weight="bold" fill="#000">20</text>
<text transform="translate(1416.42,1607.19) scale(0.8586,1)" font-size="32.70" font-weight="bold" fill="#000">0</text>
<circle cx="1758.30" cy="1348.20" r="10.50" fill="#000" stroke="none" stroke-width="0"/>
<circle cx="1758.30" cy="1391.10" r="8.75" fill="none" stroke="#000" stroke-width="3.5"/>
<text transform="translate(1783.83,1359.29) scale(0.9716,1)" font-size="32.40" font-weight="bold" fill="#000">DMSO</text>
<text transform="translate(1781.33,1401.35) scale(0.9752,1)" font-size="32.40" font-weight="bold" fill="#000">RSL3&#160;(1μM)</text>
<text transform="translate(1589.25,1250.57) scale(0.9801,1)" font-size="31.90" font-weight="bold" fill="#000">H1299</text>
<text transform="translate(1339.72,1252.80) scale(1.0343,1)" font-size="35.27" font-weight="bold" fill="#000">I</text>
<text transform="translate(1365.63,1634.68) scale(0.9819,1)" font-size="32.10" font-weight="bold" fill="#000">KW-2449:</text>
<text transform="translate(1536.53,1634.68)" font-size="32.10" font-weight="bold" fill="#000">-</text>
<text transform="translate(1695.82,1634.68)" font-size="32.10" font-weight="bold" fill="#000">+</text>
<text transform="translate(1384.60,1555.85) rotate(-90) scale(0.9746,1)" font-size="32.00" font-weight="bold" fill="#000">PI&#160;Positive&#160;&#160;%</text>
<rect x="150.50" y="2157.60" width="51.20" height="2.00" fill="#fff" stroke="#000" stroke-width="4.6"/>
<rect x="205.20" y="1954.10" width="47.60" height="205.50" fill="#fff" stroke="#000" stroke-width="4.6"/>
<rect x="311.30" y="2157.60" width="52.40" height="2.00" fill="#fff" stroke="#000" stroke-width="4.6"/>
<rect x="366.30" y="2123.70" width="46.80" height="35.90" fill="#fff" stroke="#000" stroke-width="4.6"/>
<line x1="119.80" y1="1862.80" x2="119.80" y2="2162.10" stroke="#000" stroke-width="5.0" stroke-linecap="butt"/>
<line x1="107.30" y1="2159.60" x2="443.40" y2="2159.60" stroke="#000" stroke-width="5.0" stroke-linecap="butt"/>
<line x1="107.30" y1="2159.60" x2="119.80" y2="2159.60" stroke="#000" stroke-width="5.0" stroke-linecap="butt"/>
<line x1="107.30" y1="2100.74" x2="119.80" y2="2100.74" stroke="#000" stroke-width="5.0" stroke-linecap="butt"/>
<line x1="107.30" y1="2041.88" x2="119.80" y2="2041.88" stroke="#000" stroke-width="5.0" stroke-linecap="butt"/>
<line x1="107.30" y1="1983.02" x2="119.80" y2="1983.02" stroke="#000" stroke-width="5.0" stroke-linecap="butt"/>
<line x1="107.30" y1="1924.16" x2="119.80" y2="1924.16" stroke="#000" stroke-width="5.0" stroke-linecap="butt"/>
<line x1="107.30" y1="1865.30" x2="119.80" y2="1865.30" stroke="#000" stroke-width="5.0" stroke-linecap="butt"/>
<line x1="201.60" y1="2159.60" x2="201.60" y2="2172.70" stroke="#000" stroke-width="5.0" stroke-linecap="butt"/>
<line x1="361.50" y1="2159.60" x2="361.50" y2="2172.70" stroke="#000" stroke-width="5.0" stroke-linecap="butt"/>
<line x1="228.70" y1="1930.60" x2="228.70" y2="1972.00" stroke="#000" stroke-width="2.4" stroke-linecap="butt"/>
<line x1="215.50" y1="1930.60" x2="241.90" y2="1930.60" stroke="#000" stroke-width="2.4" stroke-linecap="butt"/>
<line x1="215.50" y1="1972.00" x2="241.90" y2="1972.00" stroke="#000" stroke-width="2.4" stroke-linecap="butt"/>
<line x1="388.90" y1="2115.80" x2="388.90" y2="2125.40" stroke="#000" stroke-width="2.4" stroke-linecap="butt"/>
<line x1="375.90" y1="2115.80" x2="401.90" y2="2115.80" stroke="#000" stroke-width="2.4" stroke-linecap="butt"/>
<line x1="375.90" y1="2125.40" x2="401.90" y2="2125.40" stroke="#000" stroke-width="2.4" stroke-linecap="butt"/>
<circle cx="157.10" cy="2155.00" r="6.50" fill="#000" stroke="none" stroke-width="0"/>
<circle cx="175.20" cy="2155.50" r="6.50" fill="#000" stroke="none" stroke-width="0"/>
<circle cx="192.90" cy="2156.00" r="6.50" fill="#000" stroke="none" stroke-width="0"/>
<circle cx="317.40" cy="2155.00" r="6.50" fill="#000" stroke="none" stroke-width="0"/>
<circle cx="335.40" cy="2155.50" r="6.50" fill="#000" stroke="none" stroke-width="0"/>
<circle cx="353.10" cy="2156.00" r="6.50" fill="#000" stroke="none" stroke-width="0"/>
<circle cx="214.70" cy="1934.00" r="6.60" fill="none" stroke="#000" stroke-width="2.8"/>
<circle cx="242.10" cy="1944.00" r="6.60" fill="none" stroke="#000" stroke-width="2.8"/>
<circle cx="228.70" cy="1975.10" r="6.60" fill="none" stroke="#000" stroke-width="2.8"/>
<circle cx="370.90" cy="2114.50" r="6.60" fill="none" stroke="#000" stroke-width="2.8"/>
<circle cx="388.90" cy="2124.50" r="6.60" fill="none" stroke="#000" stroke-width="2.8"/>
<circle cx="406.00" cy="2124.50" r="6.60" fill="none" stroke="#000" stroke-width="2.8"/>
<polyline points="225.60,1906.70 225.60,1863.70 396.10,1863.70 396.10,2075.30" fill="none" stroke="#000" stroke-width="3.3" stroke-linejoin="miter"/>
<text transform="translate(272.20,1863.98) scale(1.0645,1)" font-size="47.62" font-weight="bold" fill="#000">*</text>
<text transform="translate(296.10,1863.98) scale(1.0645,1)" font-size="47.62" font-weight="bold" fill="#000">*</text>
<text transform="translate(320.00,1863.98) scale(1.0645,1)" font-size="47.62" font-weight="bold" fill="#000">*</text>
<text transform="translate(47.84,1879.04) scale(0.9592,1)" font-size="32.70" font-weight="bold" fill="#000">100</text>
<text transform="translate(62.91,1938.94) scale(0.8670,1)" font-size="32.70" font-weight="bold" fill="#000">80</text>
<text transform="translate(62.91,1997.29) scale(0.8670,1)" font-size="32.70" font-weight="bold" fill="#000">60</text>
<text transform="translate(63.80,2054.79) scale(0.8417,1)" font-size="32.70" font-weight="bold" fill="#000">40</text>
<text transform="translate(62.91,2113.94) scale(0.8670,1)" font-size="32.70" font-weight="bold" fill="#000">20</text>
<text transform="translate(75.30,2169.94) scale(0.8839,1)" font-size="32.70" font-weight="bold" fill="#000">0</text>
<circle cx="421.60" cy="1912.90" r="10.50" fill="#000" stroke="none" stroke-width="0"/>
<circle cx="421.60" cy="1954.90" r="8.75" fill="none" stroke="#000" stroke-width="3.5"/>
<text transform="translate(447.64,1923.59) scale(0.9674,1)" font-size="32.40" font-weight="bold" fill="#000">DMSO</text>
<text transform="translate(445.43,1967.14) scale(0.9727,1)" font-size="32.40" font-weight="bold" fill="#000">RSL3</text>
<text transform="translate(249.45,1808.77) scale(0.9798,1)" font-size="31.90" font-weight="bold" fill="#000">HT29</text>
<text transform="translate(5.30,1811.94) scale(0.9341,1)" font-size="35.76" font-weight="bold" fill="#000">J</text>
<text transform="translate(22.92,2205.18) scale(0.9890,1)" font-size="32.10" font-weight="bold" fill="#000">KW-2449:</text>
<text transform="translate(194.33,2205.18)" font-size="32.10" font-weight="bold" fill="#000">-</text>
<text transform="translate(352.02,2205.18)" font-size="32.10" font-weight="bold" fill="#000">+</text>
<text transform="translate(45.50,2100.96) rotate(-90) scale(0.9809,1)" font-size="32.00" font-weight="bold" fill="#000">PI&#160;Positive&#160;&#160;%</text>
<rect x="809.40" y="2158.30" width="54.80" height="2.10" fill="#fff" stroke="#000" stroke-width="4.6"/>
<rect x="867.10" y="1906.30" width="49.40" height="254.10" fill="#fff" stroke="#000" stroke-width="4.6"/>
<rect x="979.30" y="2158.30" width="54.40" height="2.10" fill="#fff" stroke="#000" stroke-width="4.6"/>
<rect x="1036.30" y="2061.20" width="49.80" height="99.20" fill="#fff" stroke="#000" stroke-width="4.6"/>
<line x1="779.00" y1="1857.30" x2="779.00" y2="2162.90" stroke="#000" stroke-width="5.0" stroke-linecap="butt"/>
<line x1="764.70" y1="2160.40" x2="1119.80" y2="2160.40" stroke="#000" stroke-width="5.0" stroke-linecap="butt"/>
<line x1="764.70" y1="2160.40" x2="779.00" y2="2160.40" stroke="#000" stroke-width="5.0" stroke-linecap="butt"/>
<line x1="764.70" y1="2100.28" x2="779.00" y2="2100.28" stroke="#000" stroke-width="5.0" stroke-linecap="butt"/>
<line x1="764.70" y1="2040.16" x2="779.00" y2="2040.16" stroke="#000" stroke-width="5.0" stroke-linecap="butt"/>
<line x1="764.70" y1="1980.04" x2="779.00" y2="1980.04" stroke="#000" stroke-width="5.0" stroke-linecap="butt"/>
<line x1="764.70" y1="1919.92" x2="779.00" y2="1919.92" stroke="#000" stroke-width="5.0" stroke-linecap="butt"/>
<line x1="764.70" y1="1859.80" x2="779.00" y2="1859.80" stroke="#000" stroke-width="5.0" stroke-linecap="butt"/>
<line x1="863.60" y1="2160.40" x2="863.60" y2="2173.30" stroke="#000" stroke-width="5.0" stroke-linecap="butt"/>
<line x1="1032.90" y1="2160.40" x2="1032.90" y2="2173.30" stroke="#000" stroke-width="5.0" stroke-linecap="butt"/>
<line x1="891.20" y1="1897.60" x2="891.20" y2="1908.10" stroke="#000" stroke-width="2.4" stroke-linecap="butt"/>
<line x1="878.20" y1="1897.60" x2="904.20" y2="1897.60" stroke="#000" stroke-width="2.4" stroke-linecap="butt"/>
<line x1="878.20" y1="1908.10" x2="904.20" y2="1908.10" stroke="#000" stroke-width="2.4" stroke-linecap="butt"/>
<line x1="1061.20" y1="2047.90" x2="1061.20" y2="2068.30" stroke="#000" stroke-width="2.4" stroke-linecap="butt"/>
<line x1="1048.20" y1="2047.90" x2="1074.20" y2="2047.90" stroke="#000" stroke-width="2.4" stroke-linecap="butt"/>
<line x1="1048.20" y1="2068.30" x2="1074.20" y2="2068.30" stroke="#000" stroke-width="2.4" stroke-linecap="butt"/>
<circle cx="816.40" cy="2154.50" r="6.50" fill="#000" stroke="none" stroke-width="0"/>
<circle cx="835.30" cy="2156.30" r="6.50" fill="#000" stroke="none" stroke-width="0"/>
<circle cx="854.20" cy="2156.30" r="6.50" fill="#000" stroke="none" stroke-width="0"/>
<circle cx="985.70" cy="2155.00" r="6.50" fill="#000" stroke="none" stroke-width="0"/>
<circle cx="1004.60" cy="2156.00" r="6.50" fill="#000" stroke="none" stroke-width="0"/>
<circle cx="1023.50" cy="2156.00" r="6.50" fill="#000" stroke="none" stroke-width="0"/>
<circle cx="872.30" cy="1896.40" r="6.60" fill="none" stroke="#000" stroke-width="2.8"/>
<circle cx="891.20" cy="1907.80" r="6.60" fill="none" stroke="#000" stroke-width="2.8"/>
<circle cx="910.10" cy="1907.00" r="6.60" fill="none" stroke="#000" stroke-width="2.8"/>
<circle cx="1048.00" cy="2056.20" r="6.60" fill="none" stroke="#000" stroke-width="2.8"/>
<circle cx="1061.20" cy="2047.50" r="6.60" fill="none" stroke="#000" stroke-width="2.8"/>
<circle cx="1075.60" cy="2069.50" r="6.60" fill="none" stroke="#000" stroke-width="2.8"/>
<polyline points="885.60,1890.00 885.60,1863.60 1056.70,1863.60 1056.70,2035.50" fill="none" stroke="#000" stroke-width="2.8" stroke-linejoin="miter"/>
<text transform="translate(932.80,1865.42) scale(1.0476,1)" font-size="48.38" font-weight="bold" fill="#000">*</text>
<text transform="translate(956.00,1865.42) scale(1.0476,1)" font-size="48.38" font-weight="bold" fill="#000">*</text>
<text transform="translate(979.20,1865.42) scale(1.0476,1)" font-size="48.38" font-weight="bold" fill="#000">*</text>
<text transform="translate(707.90,1879.14) scale(0.9807,1)" font-size="32.70" font-weight="bold" fill="#000">100</text>
<text transform="translate(722.96,1939.94) scale(0.9199,1)" font-size="32.70" font-weight="bold" fill="#000">80</text>
<text transform="translate(722.96,2000.04) scale(0.9199,1)" font-size="32.70" font-weight="bold" fill="#000">60</text>
<text transform="translate(723.90,2054.24) scale(0.8931,1)" font-size="32.70" font-weight="bold" fill="#000">40</text>
<text transform="translate(722.96,2113.74) scale(0.9199,1)" font-size="32.70" font-weight="bold" fill="#000">20</text>
<text transform="translate(736.60,2168.54) scale(0.8776,1)" font-size="32.70" font-weight="bold" fill="#000">0</text>
<circle cx="1083.90" cy="1915.70" r="10.50" fill="#000" stroke="none" stroke-width="0"/>
<circle cx="1083.90" cy="1958.00" r="8.75" fill="none" stroke="#000" stroke-width="3.5"/>
<text transform="translate(1109.54,1925.69) scale(0.9695,1)" font-size="32.40" font-weight="bold" fill="#000">DMSO</text>
<text transform="translate(1106.56,1969.64) scale(0.9596,1)" font-size="32.40" font-weight="bold" fill="#000">RSL3+iFSP1</text>
<text transform="translate(932.77,1808.06) scale(0.9689,1)" font-size="31.90" font-weight="bold" fill="#000">MEF</text>
<text transform="translate(659.01,1811.80) scale(0.9857,1)" font-size="35.56" font-weight="bold" fill="#000">K</text>
<text transform="translate(690.91,2228.73) scale(0.9918,1)" font-size="32.10" font-weight="bold" fill="#000">KW-2449:</text>
<text transform="translate(862.13,2228.73)" font-size="32.10" font-weight="bold" fill="#000">-</text>
<text transform="translate(1020.62,2228.73)" font-size="32.10" font-weight="bold" fill="#000">+</text>
<text transform="translate(704.50,2112.97) rotate(-90) scale(0.9829,1)" font-size="32.00" font-weight="bold" fill="#000">PI&#160;Positive&#160;&#160;%</text>
<text transform="translate(1237.49,26.13) scale(0.8970,1)" font-size="36.17" font-weight="bold" fill="#000">C</text>
<text transform="translate(1263.41,71.51) scale(1.0192,1)" font-size="31.30" font-weight="bold" fill="#000">KW-2449:</text>
<text transform="translate(1468.21,54.60) scale(0.7451,1)" font-size="38.40" font-weight="bold" fill="#000">-</text>
<text transform="translate(1766.00,67.95) scale(0.9821,1)" font-size="32.58" font-weight="bold" fill="#000">+</text>
<rect x="1338.7" y="85.9" width="283.3" height="172.4" fill="#878d9b" filter="url(#tex)"/>
<circle cx="1379.0" cy="229.9" r="4.7" fill="url(#rc)"/><circle cx="1412.4" cy="171.3" r="4.4" fill="url(#rc)"/><circle cx="1522.4" cy="220.1" r="4.0" fill="url(#rc)"/><circle cx="1349.6" cy="228.0" r="4.4" fill="url(#rc)"/><circle cx="1553.1" cy="89.3" r="4.4" fill="url(#rc)"/><circle cx="1541.8" cy="127.0" r="4.9" fill="url(#rc)"/><circle cx="1591.7" cy="94.0" r="3.9" fill="url(#rc)"/><circle cx="1491.8" cy="245.2" r="4.3" fill="url(#rc)"/><circle cx="1401.8" cy="159.1" r="3.9" fill="url(#rc)"/><circle cx="1403.2" cy="161.8" r="4.4" fill="url(#rc)"/><circle cx="1406.3" cy="127.3" r="4.1" fill="url(#rc)"/><circle cx="1469.1" cy="137.1" r="3.9" fill="url(#rc)"/><circle cx="1574.0" cy="181.5" r="4.6" fill="url(#rc)"/><circle cx="1393.3" cy="254.1" r="4.8" fill="url(#rc)"/><circle cx="1375.2" cy="144.3" r="4.7" fill="url(#rc)"/><circle cx="1538.9" cy="244.7" r="4.4" fill="url(#rc)"/><circle cx="1571.9" cy="200.4" r="4.2" fill="url(#rc)"/><circle cx="1504.6" cy="235.7" r="4.8" fill="url(#rc)"/><circle cx="1481.8" cy="186.9" r="3.9" fill="url(#rc)"/><circle cx="1409.0" cy="221.6" r="4.4" fill="url(#rc)"/><circle cx="1389.7" cy="180.2" r="4.7" fill="url(#rc)"/><circle cx="1528.7" cy="151.3" r="4.4" fill="url(#rc)"/><circle cx="1482.7" cy="218.4" r="4.5" fill="url(#rc)"/><circle cx="1450.7" cy="170.4" r="3.9" fill="url(#rc)"/><circle cx="1353.8" cy="205.9" r="5.0" fill="url(#rc)"/><circle cx="1506.2" cy="154.4" r="4.1" fill="url(#rc)"/><circle cx="1481.0" cy="252.3" r="4.7" fill="url(#rc)"/><circle cx="1491.3" cy="232.1" r="4.2" fill="url(#rc)"/><circle cx="1484.2" cy="247.4" r="4.5" fill="url(#rc)"/><circle cx="1469.0" cy="133.7" r="4.5" fill="url(#rc)"/><circle cx="1607.1" cy="89.8" r="4.8" fill="url(#rc)"/><circle cx="1569.2" cy="236.4" r="4.7" fill="url(#rc)"/><circle cx="1566.1" cy="175.2" r="4.5" fill="url(#rc)"/><circle cx="1459.9" cy="98.2" r="4.9" fill="url(#rc)"/><circle cx="1499.8" cy="122.2" r="4.5" fill="url(#rc)"/><circle cx="1476.2" cy="148.3" r="4.3" fill="url(#rc)"/><circle cx="1491.0" cy="192.6" r="4.6" fill="url(#rc)"/><circle cx="1468.7" cy="93.6" r="4.2" fill="url(#rc)"/><circle cx="1390.8" cy="186.2" r="4.8" fill="url(#rc)"/><circle cx="1563.1" cy="221.5" r="4.8" fill="url(#rc)"/>
<rect x="1336.95" y="84.15" width="286.80" height="175.90" fill="none" stroke="#000" stroke-width="3.5"/>
<rect x="1637.2" y="85.9" width="283.3" height="172.4" fill="#878d9b" filter="url(#tex2)"/>
<circle cx="1905.3" cy="246.6" r="4.0" fill="url(#rc)"/><circle cx="1663.7" cy="227.9" r="4.7" fill="url(#rc)"/><circle cx="1825.9" cy="140.2" r="4.6" fill="url(#rc)"/><circle cx="1808.5" cy="185.6" r="4.1" fill="url(#rc)"/><circle cx="1759.6" cy="154.4" r="4.7" fill="url(#rc)"/><circle cx="1916.1" cy="246.9" r="4.5" fill="url(#rc)"/><circle cx="1763.6" cy="133.5" r="3.9" fill="url(#rc)"/><circle cx="1647.8" cy="166.3" r="4.3" fill="url(#rc)"/><circle cx="1745.6" cy="237.3" r="4.5" fill="url(#rc)"/><circle cx="1795.6" cy="128.2" r="3.9" fill="url(#rc)"/><circle cx="1730.4" cy="111.6" r="4.5" fill="url(#rc)"/><circle cx="1917.1" cy="201.1" r="4.1" fill="url(#rc)"/><circle cx="1888.0" cy="221.5" r="4.7" fill="url(#rc)"/><circle cx="1891.6" cy="215.8" r="4.8" fill="url(#rc)"/><circle cx="1738.3" cy="252.1" r="5.0" fill="url(#rc)"/><circle cx="1684.9" cy="214.4" r="4.7" fill="url(#rc)"/><circle cx="1768.1" cy="177.2" r="4.4" fill="url(#rc)"/><circle cx="1896.7" cy="172.2" r="4.8" fill="url(#rc)"/><circle cx="1738.3" cy="235.8" r="4.9" fill="url(#rc)"/><circle cx="1768.0" cy="183.4" r="4.9" fill="url(#rc)"/><circle cx="1840.9" cy="169.9" r="4.1" fill="url(#rc)"/><circle cx="1730.2" cy="205.3" r="4.1" fill="url(#rc)"/><circle cx="1892.0" cy="133.5" r="4.9" fill="url(#rc)"/><circle cx="1726.0" cy="248.2" r="4.7" fill="url(#rc)"/><circle cx="1780.0" cy="175.1" r="4.6" fill="url(#rc)"/><circle cx="1803.2" cy="140.8" r="4.1" fill="url(#rc)"/><circle cx="1782.1" cy="244.3" r="4.6" fill="url(#rc)"/><circle cx="1661.1" cy="225.4" r="4.7" fill="url(#rc)"/>
<rect x="1635.45" y="84.15" width="286.80" height="175.90" fill="none" stroke="#000" stroke-width="3.5"/>
<rect x="1338.7" y="273.9" width="283.3" height="174.0" fill="#878d9b" filter="url(#tex3)"/>
<circle cx="1407.7" cy="368.3" r="4.3" fill="url(#rc)"/><circle cx="1509.2" cy="382.0" r="4.0" fill="url(#rc)"/><circle cx="1345.4" cy="417.6" r="4.2" fill="url(#rc)"/><circle cx="1406.7" cy="444.2" r="4.4" fill="url(#rc)"/><circle cx="1573.7" cy="356.9" r="4.6" fill="url(#rc)"/><circle cx="1383.5" cy="383.6" r="4.9" fill="url(#rc)"/><circle cx="1486.8" cy="401.4" r="4.6" fill="url(#rc)"/><circle cx="1359.5" cy="404.3" r="4.6" fill="url(#rc)"/><circle cx="1425.2" cy="282.1" r="4.9" fill="url(#rc)"/><circle cx="1472.8" cy="397.7" r="4.9" fill="url(#rc)"/><circle cx="1539.7" cy="431.6" r="4.3" fill="url(#rc)"/><circle cx="1563.8" cy="351.6" r="4.9" fill="url(#rc)"/><circle cx="1585.4" cy="293.3" r="4.0" fill="url(#rc)"/><circle cx="1401.9" cy="439.1" r="4.4" fill="url(#rc)"/><circle cx="1515.5" cy="327.5" r="4.5" fill="url(#rc)"/><circle cx="1448.7" cy="335.9" r="4.5" fill="url(#rc)"/><circle cx="1503.7" cy="428.8" r="4.7" fill="url(#rc)"/><circle cx="1599.3" cy="420.8" r="5.0" fill="url(#rc)"/><circle cx="1527.8" cy="304.3" r="4.8" fill="url(#rc)"/><circle cx="1609.2" cy="428.9" r="4.5" fill="url(#rc)"/><circle cx="1539.6" cy="312.4" r="4.8" fill="url(#rc)"/><circle cx="1500.7" cy="324.8" r="4.0" fill="url(#rc)"/><circle cx="1578.5" cy="443.2" r="4.0" fill="url(#rc)"/><circle cx="1563.7" cy="345.9" r="4.1" fill="url(#rc)"/><circle cx="1423.2" cy="406.1" r="4.9" fill="url(#rc)"/><circle cx="1354.0" cy="380.1" r="3.9" fill="url(#rc)"/><circle cx="1540.9" cy="332.5" r="4.9" fill="url(#rc)"/><circle cx="1613.6" cy="361.8" r="5.0" fill="url(#rc)"/><circle cx="1427.6" cy="289.8" r="4.6" fill="url(#rc)"/><circle cx="1350.4" cy="310.1" r="4.3" fill="url(#rc)"/><circle cx="1511.0" cy="303.1" r="3.9" fill="url(#rc)"/><circle cx="1582.3" cy="329.6" r="5.0" fill="url(#rc)"/><circle cx="1590.3" cy="340.4" r="4.4" fill="url(#rc)"/><circle cx="1485.9" cy="385.1" r="4.6" fill="url(#rc)"/><circle cx="1496.8" cy="381.1" r="4.9" fill="url(#rc)"/><circle cx="1482.3" cy="349.3" r="4.7" fill="url(#rc)"/><circle cx="1407.6" cy="327.5" r="5.0" fill="url(#rc)"/><circle cx="1486.2" cy="369.0" r="3.9" fill="url(#rc)"/><circle cx="1456.8" cy="374.3" r="3.9" fill="url(#rc)"/><circle cx="1512.5" cy="383.1" r="4.0" fill="url(#rc)"/><circle cx="1515.7" cy="355.2" r="4.6" fill="url(#rc)"/><circle cx="1439.5" cy="395.7" r="4.7" fill="url(#rc)"/><circle cx="1347.9" cy="287.1" r="4.6" fill="url(#rc)"/><circle cx="1608.8" cy="319.1" r="4.4" fill="url(#rc)"/><circle cx="1506.0" cy="330.7" r="4.3" fill="url(#rc)"/><circle cx="1428.4" cy="338.9" r="4.6" fill="url(#rc)"/><circle cx="1425.0" cy="340.3" r="4.7" fill="url(#rc)"/><circle cx="1349.2" cy="372.5" r="4.7" fill="url(#rc)"/><circle cx="1427.7" cy="314.3" r="4.8" fill="url(#rc)"/><circle cx="1407.9" cy="308.4" r="4.4" fill="url(#rc)"/><circle cx="1535.3" cy="294.0" r="4.3" fill="url(#rc)"/><circle cx="1434.2" cy="416.9" r="4.4" fill="url(#rc)"/><circle cx="1578.9" cy="305.3" r="4.3" fill="url(#rc)"/><circle cx="1522.0" cy="425.6" r="4.4" fill="url(#rc)"/><circle cx="1404.1" cy="297.2" r="4.5" fill="url(#rc)"/><circle cx="1394.6" cy="412.4" r="4.8" fill="url(#rc)"/><circle cx="1392.6" cy="323.7" r="4.8" fill="url(#rc)"/><circle cx="1519.7" cy="412.4" r="4.3" fill="url(#rc)"/><circle cx="1377.7" cy="325.9" r="4.8" fill="url(#rc)"/><circle cx="1416.9" cy="335.1" r="4.4" fill="url(#rc)"/><circle cx="1458.1" cy="345.7" r="4.9" fill="url(#rc)"/><circle cx="1385.0" cy="277.7" r="4.9" fill="url(#rc)"/><circle cx="1585.7" cy="442.7" r="4.4" fill="url(#rc)"/><circle cx="1605.2" cy="432.7" r="4.1" fill="url(#rc)"/><circle cx="1548.4" cy="417.5" r="4.6" fill="url(#rc)"/><circle cx="1485.6" cy="325.5" r="4.3" fill="url(#rc)"/><circle cx="1404.8" cy="288.3" r="4.5" fill="url(#rc)"/><circle cx="1421.3" cy="413.0" r="3.9" fill="url(#rc)"/><circle cx="1592.3" cy="393.4" r="4.9" fill="url(#rc)"/><circle cx="1590.3" cy="428.0" r="4.5" fill="url(#rc)"/><circle cx="1345.3" cy="402.1" r="4.1" fill="url(#rc)"/><circle cx="1424.9" cy="388.3" r="4.5" fill="url(#rc)"/><circle cx="1456.4" cy="434.7" r="4.6" fill="url(#rc)"/><circle cx="1436.4" cy="319.3" r="4.8" fill="url(#rc)"/><circle cx="1474.0" cy="408.3" r="4.3" fill="url(#rc)"/><circle cx="1396.4" cy="366.7" r="4.8" fill="url(#rc)"/><circle cx="1389.2" cy="409.9" r="4.9" fill="url(#rc)"/><circle cx="1565.2" cy="415.2" r="3.9" fill="url(#rc)"/><circle cx="1516.0" cy="421.8" r="4.0" fill="url(#rc)"/><circle cx="1417.0" cy="322.0" r="4.5" fill="url(#rc)"/><circle cx="1459.0" cy="356.3" r="4.8" fill="url(#rc)"/><circle cx="1342.2" cy="286.1" r="4.0" fill="url(#rc)"/><circle cx="1376.3" cy="288.4" r="5.0" fill="url(#rc)"/><circle cx="1578.6" cy="291.4" r="4.5" fill="url(#rc)"/><circle cx="1429.3" cy="329.7" r="4.3" fill="url(#rc)"/><circle cx="1521.1" cy="375.5" r="4.3" fill="url(#rc)"/><circle cx="1394.7" cy="332.1" r="4.0" fill="url(#rc)"/><circle cx="1495.7" cy="397.2" r="4.3" fill="url(#rc)"/><circle cx="1363.9" cy="306.9" r="4.3" fill="url(#rc)"/><circle cx="1509.3" cy="408.4" r="4.3" fill="url(#rc)"/><circle cx="1563.9" cy="381.6" r="4.4" fill="url(#rc)"/><circle cx="1445.0" cy="360.3" r="4.7" fill="url(#rc)"/><circle cx="1458.3" cy="393.5" r="4.4" fill="url(#rc)"/><circle cx="1409.7" cy="366.9" r="4.7" fill="url(#rc)"/><circle cx="1361.5" cy="348.3" r="4.4" fill="url(#rc)"/><circle cx="1585.6" cy="434.2" r="4.3" fill="url(#rc)"/><circle cx="1590.7" cy="409.8" r="4.2" fill="url(#rc)"/><circle cx="1470.4" cy="297.6" r="4.8" fill="url(#rc)"/><circle cx="1525.4" cy="426.0" r="4.8" fill="url(#rc)"/><circle cx="1526.8" cy="400.2" r="4.5" fill="url(#rc)"/><circle cx="1370.3" cy="375.6" r="3.9" fill="url(#rc)"/><circle cx="1381.5" cy="407.0" r="3.9" fill="url(#rc)"/><circle cx="1367.2" cy="293.6" r="4.9" fill="url(#rc)"/><circle cx="1391.4" cy="280.8" r="4.8" fill="url(#rc)"/><circle cx="1375.3" cy="418.7" r="4.6" fill="url(#rc)"/><circle cx="1573.6" cy="436.9" r="4.5" fill="url(#rc)"/><circle cx="1563.2" cy="283.0" r="4.7" fill="url(#rc)"/><circle cx="1483.5" cy="397.0" r="4.0" fill="url(#rc)"/><circle cx="1549.4" cy="433.9" r="4.0" fill="url(#rc)"/><circle cx="1431.6" cy="371.6" r="4.8" fill="url(#rc)"/><circle cx="1408.8" cy="307.1" r="4.2" fill="url(#rc)"/><circle cx="1512.5" cy="403.5" r="4.3" fill="url(#rc)"/><circle cx="1443.6" cy="343.5" r="4.3" fill="url(#rc)"/><circle cx="1457.7" cy="290.9" r="4.5" fill="url(#rc)"/><circle cx="1611.5" cy="346.3" r="4.7" fill="url(#rc)"/><circle cx="1386.2" cy="393.0" r="4.7" fill="url(#rc)"/><circle cx="1528.6" cy="363.8" r="4.4" fill="url(#rc)"/><circle cx="1520.0" cy="427.7" r="4.1" fill="url(#rc)"/><circle cx="1368.3" cy="402.6" r="4.9" fill="url(#rc)"/><circle cx="1485.1" cy="351.3" r="4.7" fill="url(#rc)"/><circle cx="1393.3" cy="321.8" r="4.1" fill="url(#rc)"/><circle cx="1504.1" cy="329.8" r="4.2" fill="url(#rc)"/><circle cx="1533.4" cy="437.1" r="4.2" fill="url(#rc)"/><circle cx="1537.3" cy="346.3" r="4.8" fill="url(#rc)"/><circle cx="1503.8" cy="321.8" r="4.1" fill="url(#rc)"/><circle cx="1348.1" cy="357.5" r="4.3" fill="url(#rc)"/><circle cx="1389.5" cy="337.5" r="4.3" fill="url(#rc)"/><circle cx="1556.4" cy="301.0" r="5.0" fill="url(#rc)"/><circle cx="1474.7" cy="377.5" r="4.4" fill="url(#rc)"/><circle cx="1573.1" cy="414.9" r="4.5" fill="url(#rc)"/><circle cx="1475.2" cy="398.0" r="4.8" fill="url(#rc)"/><circle cx="1452.7" cy="400.1" r="5.0" fill="url(#rc)"/><circle cx="1471.3" cy="315.5" r="4.2" fill="url(#rc)"/><circle cx="1540.7" cy="390.4" r="5.0" fill="url(#rc)"/><circle cx="1578.5" cy="317.6" r="4.1" fill="url(#rc)"/><circle cx="1413.4" cy="308.3" r="4.7" fill="url(#rc)"/><circle cx="1579.8" cy="428.1" r="4.2" fill="url(#rc)"/><circle cx="1581.6" cy="329.6" r="4.4" fill="url(#rc)"/><circle cx="1543.8" cy="291.3" r="4.0" fill="url(#rc)"/><circle cx="1572.9" cy="325.9" r="4.3" fill="url(#rc)"/><circle cx="1502.6" cy="390.4" r="3.9" fill="url(#rc)"/><circle cx="1434.5" cy="350.2" r="4.4" fill="url(#rc)"/><circle cx="1400.0" cy="375.2" r="5.0" fill="url(#rc)"/><circle cx="1450.1" cy="368.4" r="4.0" fill="url(#rc)"/><circle cx="1417.9" cy="388.7" r="4.0" fill="url(#rc)"/><circle cx="1587.7" cy="429.6" r="4.0" fill="url(#rc)"/><circle cx="1602.7" cy="339.8" r="4.7" fill="url(#rc)"/><circle cx="1551.7" cy="326.5" r="4.6" fill="url(#rc)"/><circle cx="1523.1" cy="412.3" r="4.2" fill="url(#rc)"/><circle cx="1550.8" cy="438.4" r="4.6" fill="url(#rc)"/><circle cx="1490.4" cy="295.9" r="4.4" fill="url(#rc)"/><circle cx="1439.4" cy="397.5" r="4.6" fill="url(#rc)"/><circle cx="1498.8" cy="307.5" r="4.6" fill="url(#rc)"/><circle cx="1516.6" cy="307.0" r="4.9" fill="url(#rc)"/><circle cx="1523.4" cy="297.6" r="4.9" fill="url(#rc)"/><circle cx="1380.9" cy="332.6" r="4.7" fill="url(#rc)"/><circle cx="1507.4" cy="370.1" r="4.6" fill="url(#rc)"/><circle cx="1468.6" cy="329.4" r="4.1" fill="url(#rc)"/><circle cx="1360.7" cy="397.2" r="4.7" fill="url(#rc)"/><circle cx="1492.3" cy="401.2" r="4.3" fill="url(#rc)"/><circle cx="1415.4" cy="341.3" r="4.9" fill="url(#rc)"/><circle cx="1353.4" cy="361.7" r="4.2" fill="url(#rc)"/><circle cx="1554.9" cy="336.4" r="4.3" fill="url(#rc)"/><circle cx="1453.5" cy="367.9" r="4.7" fill="url(#rc)"/><circle cx="1439.6" cy="419.2" r="4.0" fill="url(#rc)"/><circle cx="1416.7" cy="293.6" r="4.0" fill="url(#rc)"/><circle cx="1557.7" cy="399.1" r="4.1" fill="url(#rc)"/><circle cx="1394.2" cy="346.9" r="4.7" fill="url(#rc)"/><circle cx="1567.9" cy="402.7" r="4.6" fill="url(#rc)"/><circle cx="1382.3" cy="343.8" r="4.1" fill="url(#rc)"/>
<rect x="1336.95" y="272.15" width="286.80" height="177.50" fill="none" stroke="#000" stroke-width="3.5"/>
<rect x="1637.2" y="273.9" width="283.3" height="174.0" fill="#878d9b" filter="url(#tex4)"/>
<circle cx="1705.7" cy="294.2" r="4.3" fill="url(#rc)"/><circle cx="1683.2" cy="288.1" r="4.3" fill="url(#rc)"/><circle cx="1894.7" cy="411.4" r="4.7" fill="url(#rc)"/><circle cx="1701.7" cy="367.1" r="4.2" fill="url(#rc)"/><circle cx="1688.1" cy="294.7" r="4.1" fill="url(#rc)"/><circle cx="1897.4" cy="416.2" r="4.8" fill="url(#rc)"/><circle cx="1862.2" cy="309.4" r="4.2" fill="url(#rc)"/><circle cx="1814.1" cy="399.9" r="4.8" fill="url(#rc)"/><circle cx="1884.2" cy="291.5" r="4.6" fill="url(#rc)"/><circle cx="1826.5" cy="361.9" r="4.1" fill="url(#rc)"/><circle cx="1771.5" cy="291.9" r="4.9" fill="url(#rc)"/><circle cx="1880.2" cy="368.9" r="4.2" fill="url(#rc)"/><circle cx="1892.2" cy="373.1" r="4.9" fill="url(#rc)"/><circle cx="1875.4" cy="362.3" r="4.4" fill="url(#rc)"/><circle cx="1806.3" cy="349.3" r="4.1" fill="url(#rc)"/><circle cx="1724.8" cy="413.4" r="3.9" fill="url(#rc)"/><circle cx="1653.0" cy="382.1" r="4.2" fill="url(#rc)"/><circle cx="1788.5" cy="356.1" r="4.3" fill="url(#rc)"/><circle cx="1916.7" cy="309.8" r="4.4" fill="url(#rc)"/><circle cx="1696.4" cy="383.2" r="4.2" fill="url(#rc)"/><circle cx="1738.9" cy="402.4" r="4.3" fill="url(#rc)"/><circle cx="1795.1" cy="428.8" r="4.0" fill="url(#rc)"/><circle cx="1657.3" cy="315.4" r="4.7" fill="url(#rc)"/><circle cx="1810.9" cy="316.8" r="4.3" fill="url(#rc)"/><circle cx="1689.4" cy="354.0" r="3.9" fill="url(#rc)"/><circle cx="1833.6" cy="427.4" r="5.0" fill="url(#rc)"/><circle cx="1844.0" cy="438.2" r="3.9" fill="url(#rc)"/><circle cx="1720.3" cy="439.2" r="4.8" fill="url(#rc)"/><circle cx="1754.0" cy="435.4" r="4.6" fill="url(#rc)"/><circle cx="1867.0" cy="326.2" r="4.1" fill="url(#rc)"/><circle cx="1763.4" cy="299.8" r="4.3" fill="url(#rc)"/><circle cx="1906.9" cy="332.6" r="3.9" fill="url(#rc)"/><circle cx="1652.6" cy="305.4" r="4.8" fill="url(#rc)"/><circle cx="1740.8" cy="325.7" r="4.0" fill="url(#rc)"/><circle cx="1912.4" cy="348.1" r="4.1" fill="url(#rc)"/><circle cx="1656.7" cy="286.2" r="4.1" fill="url(#rc)"/><circle cx="1827.9" cy="302.0" r="3.9" fill="url(#rc)"/><circle cx="1776.3" cy="318.7" r="5.0" fill="url(#rc)"/><circle cx="1674.1" cy="365.8" r="4.8" fill="url(#rc)"/><circle cx="1753.7" cy="442.8" r="4.4" fill="url(#rc)"/><circle cx="1707.3" cy="345.9" r="3.9" fill="url(#rc)"/><circle cx="1757.0" cy="318.7" r="4.9" fill="url(#rc)"/><circle cx="1870.6" cy="360.7" r="3.9" fill="url(#rc)"/><circle cx="1710.7" cy="317.6" r="4.1" fill="url(#rc)"/><circle cx="1704.4" cy="423.0" r="4.1" fill="url(#rc)"/>
<rect x="1635.45" y="272.15" width="286.80" height="177.50" fill="none" stroke="#000" stroke-width="3.5"/>
<line x1="1848.70" y1="431.10" x2="1904.40" y2="431.10" stroke="#000" stroke-width="5.5" stroke-linecap="butt"/>
<line x1="1338.00" y1="468.00" x2="1920.00" y2="468.00" stroke="#000" stroke-width="3.2" stroke-linecap="butt"/>
<text transform="translate(1594.02,502.80) scale(1.0944,1)" font-size="29.01" font-weight="bold" fill="#000">MEF</text>
<text transform="translate(1325.43,228.23) rotate(-90) scale(0.8522,1)" font-size="36.17" font-weight="bold" fill="#000">DMSO</text>
<text transform="translate(1325.43,399.62) rotate(-90) scale(0.8913,1)" font-size="36.17" font-weight="bold" fill="#000">RSL3</text>
<text transform="translate(637.22,604.70) scale(0.9454,1)" font-size="35.13" font-weight="bold" fill="#000">E</text>
<text transform="translate(893.55,585.10)" font-size="31.15" font-weight="bold" fill="#000">MEF</text>
<path d="M686.2,741.5 L699.4,741.5 L709.6,735.8 L722.0,730.3 L731.3,714.8 L739.9,702.3 L743.8,686.8 L748.4,669.7 L753.1,651.0 L758.6,637.0 L761.7,628.4 L767.1,621.4 L774.1,619.9 L777.2,626.1 L782.7,646.3 L787.3,661.9 L792.0,682.1 L795.9,697.7 L801.3,710.1 L807.6,721.0 L815.3,729.6 L823.1,734.2 L835.6,738.9 L858.9,740.9 L860.4,741.5 L1170.5,741.5 L1170.5,741.5 L686.2,741.5 Z" fill="#fdeced" stroke="none"/>
<path d="M686.2,814.0 L701.0,814.0 L711.1,807.3 L723.6,800.3 L731.3,784.8 L739.1,773.9 L743.8,756.8 L749.2,735.0 L753.1,721.0 L759.3,710.1 L761.7,694.6 L767.1,689.1 L773.3,696.1 L778.0,697.7 L782.7,713.2 L787.3,735.0 L793.6,755.2 L799.8,770.8 L807.6,794.1 L816.9,801.9 L832.4,808.9 L858.9,813.5 L860.5,814.0 L1170.5,814.0 L1170.5,814.0 L686.2,814.0 Z" fill="#fff3ec" stroke="none"/>
<path d="M686.2,885.6 L701.8,885.6 L709.6,883.0 L729.8,882.5 L743.8,878.3 L751.6,872.9 L757.8,862.0 L767.1,840.2 L773.3,823.1 L776.4,808.3 L781.1,795.1 L784.2,781.1 L788.9,773.3 L793.6,759.3 L798.2,768.7 L802.9,787.3 L809.1,798.2 L813.8,813.8 L816.9,834.0 L823.1,848.0 L832.4,863.6 L841.8,874.4 L854.2,881.4 L872.9,885.6 L1170.5,885.6 L1170.5,885.6 L686.2,885.6 Z" fill="#e7f5f6" stroke="none"/>
<path d="M686.2,957.7 L700.2,957.7 L711.1,954.6 L725.1,949.1 L739.1,930.4 L745.3,910.2 L750.0,890.0 L754.7,871.3 L760.9,848.0 L764.8,837.9 L771.8,834.0 L776.4,822.3 L781.1,843.3 L788.9,866.7 L796.7,886.9 L804.4,913.3 L812.2,925.8 L820.0,936.7 L835.6,946.0 L851.1,952.2 L865.1,956.1 L882.2,957.7 L1170.5,957.7 L1170.5,957.7 L686.2,957.7 Z" fill="#e9fbe7" stroke="none"/>
<path d="M686.2,741.5 L699.4,741.5 L709.6,735.8 L722.0,730.3 L731.3,714.8 L739.9,702.3 L743.8,686.8 L748.4,669.7 L753.1,651.0 L758.6,637.0 L761.7,628.4 L767.1,621.4 L774.1,619.9 L777.2,626.1 L782.7,646.3 L787.3,661.9 L792.0,682.1 L795.9,697.7 L801.3,710.1 L807.6,721.0 L815.3,729.6 L823.1,734.2 L835.6,738.9 L858.9,740.9 L860.4,741.5 L1170.5,741.5" fill="none" stroke="#ff2a2a" stroke-width="2.2" stroke-linejoin="round"/>
<path d="M686.2,814.0 L701.0,814.0 L711.1,807.3 L723.6,800.3 L731.3,784.8 L739.1,773.9 L743.8,756.8 L749.2,735.0 L753.1,721.0 L759.3,710.1 L761.7,694.6 L767.1,689.1 L773.3,696.1 L778.0,697.7 L782.7,713.2 L787.3,735.0 L793.6,755.2 L799.8,770.8 L807.6,794.1 L816.9,801.9 L832.4,808.9 L858.9,813.5 L860.5,814.0 L1170.5,814.0" fill="none" stroke="#ff8a1e" stroke-width="2.2" stroke-linejoin="round"/>
<path d="M686.2,885.6 L701.8,885.6 L709.6,883.0 L729.8,882.5 L743.8,878.3 L751.6,872.9 L757.8,862.0 L767.1,840.2 L773.3,823.1 L776.4,808.3 L781.1,795.1 L784.2,781.1 L788.9,773.3 L793.6,759.3 L798.2,768.7 L802.9,787.3 L809.1,798.2 L813.8,813.8 L816.9,834.0 L823.1,848.0 L832.4,863.6 L841.8,874.4 L854.2,881.4 L872.9,885.6 L1170.5,885.6" fill="none" stroke="#1a9ba8" stroke-width="2.2" stroke-linejoin="round"/>
<path d="M686.2,957.7 L700.2,957.7 L711.1,954.6 L725.1,949.1 L739.1,930.4 L745.3,910.2 L750.0,890.0 L754.7,871.3 L760.9,848.0 L764.8,837.9 L771.8,834.0 L776.4,822.3 L781.1,843.3 L788.9,866.7 L796.7,886.9 L804.4,913.3 L812.2,925.8 L820.0,936.7 L835.6,946.0 L851.1,952.2 L865.1,956.1 L882.2,957.7 L1170.5,957.7" fill="none" stroke="#11ee11" stroke-width="2.2" stroke-linejoin="round"/>
<polyline points="685.6,963.5 685.6,602.2 1171.5,602.2" fill="none" stroke="#262626" stroke-width="1.9"/>
<line x1="1171.70" y1="601.20" x2="1171.70" y2="964.50" stroke="#111" stroke-width="3.6" stroke-linecap="butt"/>
<line x1="684.50" y1="963.50" x2="1173.50" y2="963.50" stroke="#222" stroke-width="2.2" stroke-linecap="butt"/>
<line x1="685.40" y1="963.50" x2="685.40" y2="973.30" stroke="#222" stroke-width="2.4" stroke-linecap="butt"/>
<line x1="806.90" y1="963.50" x2="806.90" y2="973.30" stroke="#222" stroke-width="2.4" stroke-linecap="butt"/>
<line x1="928.40" y1="963.50" x2="928.40" y2="973.30" stroke="#222" stroke-width="2.4" stroke-linecap="butt"/>
<line x1="1049.90" y1="963.50" x2="1049.90" y2="973.30" stroke="#222" stroke-width="2.4" stroke-linecap="butt"/>
<line x1="1171.40" y1="963.50" x2="1171.40" y2="973.30" stroke="#222" stroke-width="2.4" stroke-linecap="butt"/>
<line x1="721.98" y1="963.50" x2="721.98" y2="968.00" stroke="#222" stroke-width="2.2" stroke-linecap="butt"/>
<line x1="743.37" y1="963.50" x2="743.37" y2="968.00" stroke="#222" stroke-width="2.2" stroke-linecap="butt"/>
<line x1="758.55" y1="963.50" x2="758.55" y2="968.00" stroke="#222" stroke-width="2.2" stroke-linecap="butt"/>
<line x1="770.32" y1="963.50" x2="770.32" y2="970.20" stroke="#222" stroke-width="2.8" stroke-linecap="butt"/>
<line x1="779.95" y1="963.50" x2="779.95" y2="968.00" stroke="#222" stroke-width="2.2" stroke-linecap="butt"/>
<line x1="788.08" y1="963.50" x2="788.08" y2="968.00" stroke="#222" stroke-width="2.2" stroke-linecap="butt"/>
<line x1="795.13" y1="963.50" x2="795.13" y2="968.00" stroke="#222" stroke-width="2.2" stroke-linecap="butt"/>
<line x1="801.34" y1="963.50" x2="801.34" y2="968.00" stroke="#222" stroke-width="2.2" stroke-linecap="butt"/>
<line x1="843.48" y1="963.50" x2="843.48" y2="968.00" stroke="#222" stroke-width="2.2" stroke-linecap="butt"/>
<line x1="864.87" y1="963.50" x2="864.87" y2="968.00" stroke="#222" stroke-width="2.2" stroke-linecap="butt"/>
<line x1="880.05" y1="963.50" x2="880.05" y2="968.00" stroke="#222" stroke-width="2.2" stroke-linecap="butt"/>
<line x1="891.82" y1="963.50" x2="891.82" y2="970.20" stroke="#222" stroke-width="2.8" stroke-linecap="butt"/>
<line x1="901.45" y1="963.50" x2="901.45" y2="968.00" stroke="#222" stroke-width="2.2" stroke-linecap="butt"/>
<line x1="909.58" y1="963.50" x2="909.58" y2="968.00" stroke="#222" stroke-width="2.2" stroke-linecap="butt"/>
<line x1="916.63" y1="963.50" x2="916.63" y2="968.00" stroke="#222" stroke-width="2.2" stroke-linecap="butt"/>
<line x1="922.84" y1="963.50" x2="922.84" y2="968.00" stroke="#222" stroke-width="2.2" stroke-linecap="butt"/>
<line x1="964.98" y1="963.50" x2="964.98" y2="968.00" stroke="#222" stroke-width="2.2" stroke-linecap="butt"/>
<line x1="986.37" y1="963.50" x2="986.37" y2="968.00" stroke="#222" stroke-width="2.2" stroke-linecap="butt"/>
<line x1="1001.55" y1="963.50" x2="1001.55" y2="968.00" stroke="#222" stroke-width="2.2" stroke-linecap="butt"/>
<line x1="1013.32" y1="963.50" x2="1013.32" y2="970.20" stroke="#222" stroke-width="2.8" stroke-linecap="butt"/>
<line x1="1022.95" y1="963.50" x2="1022.95" y2="968.00" stroke="#222" stroke-width="2.2" stroke-linecap="butt"/>
<line x1="1031.08" y1="963.50" x2="1031.08" y2="968.00" stroke="#222" stroke-width="2.2" stroke-linecap="butt"/>
<line x1="1038.13" y1="963.50" x2="1038.13" y2="968.00" stroke="#222" stroke-width="2.2" stroke-linecap="butt"/>
<line x1="1044.34" y1="963.50" x2="1044.34" y2="968.00" stroke="#222" stroke-width="2.2" stroke-linecap="butt"/>
<line x1="1086.48" y1="963.50" x2="1086.48" y2="968.00" stroke="#222" stroke-width="2.2" stroke-linecap="butt"/>
<line x1="1107.87" y1="963.50" x2="1107.87" y2="968.00" stroke="#222" stroke-width="2.2" stroke-linecap="butt"/>
<line x1="1123.05" y1="963.50" x2="1123.05" y2="968.00" stroke="#222" stroke-width="2.2" stroke-linecap="butt"/>
<line x1="1134.82" y1="963.50" x2="1134.82" y2="970.20" stroke="#222" stroke-width="2.8" stroke-linecap="butt"/>
<line x1="1144.45" y1="963.50" x2="1144.45" y2="968.00" stroke="#222" stroke-width="2.2" stroke-linecap="butt"/>
<line x1="1152.58" y1="963.50" x2="1152.58" y2="968.00" stroke="#222" stroke-width="2.2" stroke-linecap="butt"/>
<line x1="1159.63" y1="963.50" x2="1159.63" y2="968.00" stroke="#222" stroke-width="2.2" stroke-linecap="butt"/>
<line x1="1165.84" y1="963.50" x2="1165.84" y2="968.00" stroke="#222" stroke-width="2.2" stroke-linecap="butt"/>
<text transform="translate(692.43,999.10) scale(0.8147,1)" font-size="17.07" font-weight="normal" fill="#222">1</text>
<text transform="translate(706.46,998.84) scale(1.2219,1)" font-size="16.70" font-weight="normal" fill="#222">0</text>
<text transform="translate(719.36,986.43) scale(1.1730,1)" font-size="17.39" font-weight="normal" fill="#222">0</text>
<text transform="translate(795.13,999.10) scale(0.8147,1)" font-size="17.07" font-weight="normal" fill="#222">1</text>
<text transform="translate(809.16,998.84) scale(1.2219,1)" font-size="16.70" font-weight="normal" fill="#222">0</text>
<text transform="translate(822.12,986.70) scale(0.8814,1)" font-size="17.78" font-weight="normal" fill="#222">1</text>
<text transform="translate(911.13,999.10) scale(0.8147,1)" font-size="17.07" font-weight="normal" fill="#222">1</text>
<text transform="translate(925.16,998.84) scale(1.2219,1)" font-size="16.70" font-weight="normal" fill="#222">0</text>
<text transform="translate(938.42,986.70) scale(1.2960,1)" font-size="17.78" font-weight="normal" fill="#222">2</text>
<text transform="translate(1023.13,999.10) scale(0.8147,1)" font-size="17.07" font-weight="normal" fill="#222">1</text>
<text transform="translate(1037.16,998.84) scale(1.2219,1)" font-size="16.70" font-weight="normal" fill="#222">0</text>
<text transform="translate(1050.58,986.43) scale(1.3295,1)" font-size="17.39" font-weight="normal" fill="#222">3</text>
<text transform="translate(1139.13,999.10) scale(0.8147,1)" font-size="17.07" font-weight="normal" fill="#222">1</text>
<text transform="translate(1153.16,998.84) scale(1.2219,1)" font-size="16.70" font-weight="normal" fill="#222">0</text>
<text transform="translate(1165.15,986.70) scale(1.2545,1)" font-size="17.78" font-weight="normal" fill="#222">4</text>
<line x1="641.40" y1="1048.00" x2="722.40" y2="1048.00" stroke="#f04848" stroke-width="5" stroke-linecap="butt"/>
<line x1="838.50" y1="1046.70" x2="918.60" y2="1046.70" stroke="#fccfa8" stroke-width="5" stroke-linecap="butt"/>
<line x1="643.50" y1="1108.00" x2="723.60" y2="1108.00" stroke="#20a6b0" stroke-width="5" stroke-linecap="butt"/>
<line x1="838.50" y1="1110.30" x2="918.60" y2="1110.30" stroke="#12dd12" stroke-width="5" stroke-linecap="butt"/>
<text transform="translate(732.51,1056.12) scale(1.0326,1)" font-size="30.80" font-weight="bold" fill="#000">Ctrl</text>
<text transform="translate(928.00,1057.01) scale(1.0197,1)" font-size="31.30" font-weight="bold" fill="#000">KW-2449</text>
<text transform="translate(733.03,1118.51) scale(1.0093,1)" font-size="31.30" font-weight="bold" fill="#000">RSL3</text>
<text transform="translate(925.32,1119.20) scale(0.9828,1)" font-size="32.28" font-weight="bold" fill="#000">RSL3+KW-2449</text>
<text transform="translate(1237.19,603.70) scale(0.9685,1)" font-size="34.84" font-weight="bold" fill="#000">F</text>
<line x1="1323.00" y1="631.70" x2="1355.60" y2="631.70" stroke="#000" stroke-width="2" stroke-linecap="butt"/>
<circle cx="1338.90" cy="631.70" r="5.60" fill="#000" stroke="none" stroke-width="0"/>
<line x1="1323.00" y1="671.30" x2="1355.60" y2="671.30" stroke="#000" stroke-width="2" stroke-linecap="butt"/>
<rect x="1333.10" y="666.00" width="12.50" height="11.20" fill="#000" stroke="none" stroke-width="0"/>
<text transform="translate(1363.51,639.83) scale(1.0574,1)" font-size="30.05" font-weight="bold" fill="#000">KW-2449</text>
<text transform="translate(1576.70,639.83) scale(1.0662,1)" font-size="30.05" font-weight="bold" fill="#000">EC</text>
<text transform="translate(1621.08,647.84) scale(1.2036,1)" font-size="16.83" font-weight="bold" fill="#000">50</text>
<text transform="translate(1651.51,639.83) scale(1.0569,1)" font-size="30.05" font-weight="bold" fill="#000">=&#160;169.1&#160;nM</text>
<text transform="translate(1363.56,680.35) scale(1.0739,1)" font-size="28.93" font-weight="bold" fill="#000">Ferrostatin-1</text>
<text transform="translate(1575.22,680.33) scale(1.0487,1)" font-size="30.19" font-weight="bold" fill="#000">EC</text>
<text transform="translate(1619.39,687.74) scale(1.1867,1)" font-size="16.83" font-weight="bold" fill="#000">50</text>
<text transform="translate(1650.01,680.33) scale(1.0474,1)" font-size="30.19" font-weight="bold" fill="#000">=&#160;79.04&#160;nM</text>
<line x1="1397.50" y1="719.10" x2="1397.50" y2="1014.60" stroke="#000" stroke-width="4.6" stroke-linecap="butt"/>
<line x1="1383.50" y1="1012.30" x2="1859.40" y2="1012.30" stroke="#000" stroke-width="4.6" stroke-linecap="butt"/>
<line x1="1383.50" y1="1012.30" x2="1397.50" y2="1012.30" stroke="#000" stroke-width="4.6" stroke-linecap="butt"/>
<line x1="1383.50" y1="954.12" x2="1397.50" y2="954.12" stroke="#000" stroke-width="4.6" stroke-linecap="butt"/>
<line x1="1383.50" y1="895.94" x2="1397.50" y2="895.94" stroke="#000" stroke-width="4.6" stroke-linecap="butt"/>
<line x1="1383.50" y1="837.76" x2="1397.50" y2="837.76" stroke="#000" stroke-width="4.6" stroke-linecap="butt"/>
<line x1="1383.50" y1="779.58" x2="1397.50" y2="779.58" stroke="#000" stroke-width="4.6" stroke-linecap="butt"/>
<line x1="1383.50" y1="721.40" x2="1397.50" y2="721.40" stroke="#000" stroke-width="4.6" stroke-linecap="butt"/>
<line x1="1428.90" y1="1012.30" x2="1428.90" y2="1025.10" stroke="#000" stroke-width="4.4" stroke-linecap="butt"/>
<line x1="1536.00" y1="1012.30" x2="1536.00" y2="1025.10" stroke="#000" stroke-width="4.4" stroke-linecap="butt"/>
<line x1="1643.10" y1="1012.30" x2="1643.10" y2="1025.10" stroke="#000" stroke-width="4.4" stroke-linecap="butt"/>
<line x1="1750.20" y1="1012.30" x2="1750.20" y2="1025.10" stroke="#000" stroke-width="4.4" stroke-linecap="butt"/>
<line x1="1857.30" y1="1012.30" x2="1857.30" y2="1025.10" stroke="#000" stroke-width="4.4" stroke-linecap="butt"/>
<text transform="translate(1313.23,729.41) scale(1.0016,1)" font-size="31.44" font-weight="bold" fill="#000">100</text>
<text transform="translate(1329.63,791.90) scale(0.9743,1)" font-size="31.86" font-weight="bold" fill="#000">80</text>
<text transform="translate(1327.98,846.51) scale(1.0361,1)" font-size="31.44" font-weight="bold" fill="#000">60</text>
<text transform="translate(1328.50,905.00) scale(1.0030,1)" font-size="32.00" font-weight="bold" fill="#000">40</text>
<text transform="translate(1329.58,964.10) scale(1.0137,1)" font-size="32.14" font-weight="bold" fill="#000">20</text>
<text transform="translate(1339.36,1021.81) scale(0.9520,1)" font-size="31.44" font-weight="bold" fill="#000">0</text>
<text transform="translate(1421.07,1067.30) scale(0.7821,1)" font-size="33.28" font-weight="bold" fill="#000">1</text>
<text transform="translate(1516.70,1066.79) scale(0.9830,1)" font-size="32.56" font-weight="bold" fill="#000">10</text>
<text transform="translate(1612.80,1066.79) scale(0.9850,1)" font-size="32.56" font-weight="bold" fill="#000">100</text>
<text transform="translate(1709.92,1066.79) scale(0.9715,1)" font-size="32.56" font-weight="bold" fill="#000">1000</text>
<text transform="translate(1806.05,1066.99) scale(0.9614,1)" font-size="32.40" font-weight="bold" fill="#000">10000&#160;/&#160;nM</text>
<text transform="translate(1297.27,981.29) rotate(-90)" font-size="31.69" font-weight="bold" fill="#000">Cell&#160;Viability&#160;(%)</text>
<polyline points="1428.90,919.48 1431.85,919.47 1434.79,919.47 1437.74,919.46 1440.68,919.46 1443.63,919.45 1446.58,919.45 1449.52,919.44 1452.47,919.43 1455.42,919.42 1458.36,919.41 1461.31,919.40 1464.25,919.38 1467.20,919.37 1470.15,919.35 1473.09,919.33 1476.04,919.30 1478.98,919.28 1481.93,919.25 1484.88,919.21 1487.82,919.17 1490.77,919.13 1493.72,919.08 1496.66,919.02 1499.61,918.96 1502.55,918.88 1505.50,918.80 1508.45,918.71 1511.39,918.60 1514.34,918.48 1517.28,918.34 1520.23,918.18 1523.18,918.01 1526.12,917.81 1529.07,917.58 1532.01,917.32 1534.96,917.03 1537.91,916.71 1540.85,916.34 1543.80,915.92 1546.75,915.44 1549.69,914.91 1552.64,914.31 1555.58,913.64 1558.53,912.88 1561.48,912.02 1564.42,911.06 1567.37,909.99 1570.31,908.79 1573.26,907.45 1576.21,905.95 1579.15,904.29 1582.10,902.45 1585.05,900.42 1587.99,898.18 1590.94,895.72 1593.88,893.02 1596.83,890.09 1599.78,886.91 1602.72,883.47 1605.67,879.79 1608.61,875.85 1611.56,871.68 1614.51,867.28 1617.45,862.68 1620.40,857.89 1623.35,852.95 1626.29,847.89 1629.24,842.75 1632.18,837.57 1635.13,832.39 1638.08,827.25 1641.02,822.20 1643.97,817.26 1646.91,812.48 1649.86,807.87 1652.81,803.48 1655.75,799.31 1658.70,795.38 1661.65,791.70 1664.59,788.27 1667.54,785.09 1670.48,782.16 1673.43,779.47 1676.38,777.01 1679.32,774.77 1682.27,772.74 1685.21,770.91 1688.16,769.25 1691.11,767.76 1694.05,766.42 1697.00,765.22 1699.95,764.15 1702.89,763.19 1705.84,762.34 1708.78,761.58 1711.73,760.91 1714.68,760.31 1717.62,759.78 1720.57,759.30 1723.51,758.89 1726.46,758.52 1729.41,758.19 1732.35,757.90 1735.30,757.65 1738.24,757.42 1741.19,757.22 1744.14,757.04 1747.08,756.89 1750.03,756.75 1752.98,756.63 1755.92,756.52 1758.87,756.43 1761.81,756.34 1764.76,756.27 1767.71,756.21 1770.65,756.15 1773.60,756.10 1776.54,756.06 1779.49,756.02 1782.44,755.98" fill="none" stroke="#000" stroke-width="2.1" stroke-linejoin="round"/>
<polyline points="1428.90,932.01 1431.85,932.00 1434.79,932.00 1437.74,932.00 1440.68,932.00 1443.63,932.00 1446.58,932.00 1449.52,932.00 1452.47,932.00 1455.42,931.99 1458.36,931.99 1461.31,931.99 1464.25,931.98 1467.20,931.98 1470.15,931.98 1473.09,931.97 1476.04,931.97 1478.98,931.96 1481.93,931.95 1484.88,931.95 1487.82,931.94 1490.77,931.93 1493.72,931.92 1496.66,931.90 1499.61,931.89 1502.55,931.87 1505.50,931.85 1508.45,931.83 1511.39,931.81 1514.34,931.78 1517.28,931.75 1520.23,931.72 1523.18,931.68 1526.12,931.63 1529.07,931.58 1532.01,931.52 1534.96,931.46 1537.91,931.38 1540.85,931.30 1543.80,931.20 1546.75,931.09 1549.69,930.97 1552.64,930.83 1555.58,930.67 1558.53,930.49 1561.48,930.29 1564.42,930.06 1567.37,929.80 1570.31,929.50 1573.26,929.17 1576.21,928.79 1579.15,928.37 1582.10,927.89 1585.05,927.34 1587.99,926.73 1590.94,926.05 1593.88,925.27 1596.83,924.40 1599.78,923.43 1602.72,922.34 1605.67,921.12 1608.61,919.75 1611.56,918.23 1614.51,916.55 1617.45,914.67 1620.40,912.61 1623.35,910.33 1626.29,907.82 1629.24,905.08 1632.18,902.10 1635.13,898.86 1638.08,895.37 1641.02,891.62 1643.97,887.62 1646.91,883.37 1649.86,878.90 1652.81,874.21 1655.75,869.34 1658.70,864.31 1661.65,859.16 1664.59,853.93 1667.54,848.66 1670.48,843.39 1673.43,838.16 1676.38,833.01 1679.32,827.99 1682.27,823.12 1685.21,818.43 1688.16,813.96 1691.11,809.71 1694.05,805.71 1697.00,801.96 1699.95,798.47 1702.89,795.23 1705.84,792.25 1708.78,789.51 1711.73,787.01 1714.68,784.73 1717.62,782.66 1720.57,780.79 1723.51,779.10 1726.46,777.58 1729.41,776.22 1732.35,775.00 1735.30,773.91 1738.24,772.93 1741.19,772.06 1744.14,771.29 1747.08,770.60 1750.03,769.99 1752.98,769.45 1755.92,768.97 1758.87,768.55 1761.81,768.17 1764.76,767.84 1767.71,767.54 1770.65,767.28 1773.60,767.05 1776.54,766.85 1779.49,766.67 1782.44,766.51" fill="none" stroke="#000" stroke-width="2.1" stroke-linejoin="round"/>
<line x1="1429.60" y1="910.40" x2="1429.60" y2="930.00" stroke="#000" stroke-width="2.2" stroke-linecap="butt"/>
<line x1="1423.50" y1="910.40" x2="1435.70" y2="910.40" stroke="#000" stroke-width="2.2" stroke-linecap="butt"/>
<line x1="1423.50" y1="930.00" x2="1435.70" y2="930.00" stroke="#000" stroke-width="2.2" stroke-linecap="butt"/>
<line x1="1536.20" y1="909.00" x2="1536.20" y2="919.00" stroke="#000" stroke-width="2.2" stroke-linecap="butt"/>
<line x1="1530.10" y1="909.00" x2="1542.30" y2="909.00" stroke="#000" stroke-width="2.2" stroke-linecap="butt"/>
<line x1="1530.10" y1="919.00" x2="1542.30" y2="919.00" stroke="#000" stroke-width="2.2" stroke-linecap="butt"/>
<line x1="1611.10" y1="856.70" x2="1611.10" y2="874.00" stroke="#000" stroke-width="2.2" stroke-linecap="butt"/>
<line x1="1605.00" y1="856.70" x2="1617.20" y2="856.70" stroke="#000" stroke-width="2.2" stroke-linecap="butt"/>
<line x1="1605.00" y1="874.00" x2="1617.20" y2="874.00" stroke="#000" stroke-width="2.2" stroke-linecap="butt"/>
<line x1="1643.30" y1="806.00" x2="1643.30" y2="812.00" stroke="#000" stroke-width="2.2" stroke-linecap="butt"/>
<line x1="1637.20" y1="806.00" x2="1649.40" y2="806.00" stroke="#000" stroke-width="2.2" stroke-linecap="butt"/>
<line x1="1637.20" y1="812.00" x2="1649.40" y2="812.00" stroke="#000" stroke-width="2.2" stroke-linecap="butt"/>
<line x1="1675.60" y1="752.20" x2="1675.60" y2="766.70" stroke="#000" stroke-width="2.2" stroke-linecap="butt"/>
<line x1="1669.50" y1="752.20" x2="1681.70" y2="752.20" stroke="#000" stroke-width="2.2" stroke-linecap="butt"/>
<line x1="1669.50" y1="766.70" x2="1681.70" y2="766.70" stroke="#000" stroke-width="2.2" stroke-linecap="butt"/>
<line x1="1718.20" y1="751.10" x2="1718.20" y2="774.40" stroke="#000" stroke-width="2.2" stroke-linecap="butt"/>
<line x1="1712.10" y1="751.10" x2="1724.30" y2="751.10" stroke="#000" stroke-width="2.2" stroke-linecap="butt"/>
<line x1="1712.10" y1="774.40" x2="1724.30" y2="774.40" stroke="#000" stroke-width="2.2" stroke-linecap="butt"/>
<line x1="1750.40" y1="751.00" x2="1750.40" y2="757.00" stroke="#000" stroke-width="2.2" stroke-linecap="butt"/>
<line x1="1744.30" y1="751.00" x2="1756.50" y2="751.00" stroke="#000" stroke-width="2.2" stroke-linecap="butt"/>
<line x1="1744.30" y1="757.00" x2="1756.50" y2="757.00" stroke="#000" stroke-width="2.2" stroke-linecap="butt"/>
<line x1="1782.20" y1="743.30" x2="1782.20" y2="770.00" stroke="#000" stroke-width="2.2" stroke-linecap="butt"/>
<line x1="1776.10" y1="743.30" x2="1788.30" y2="743.30" stroke="#000" stroke-width="2.2" stroke-linecap="butt"/>
<line x1="1776.10" y1="770.00" x2="1788.30" y2="770.00" stroke="#000" stroke-width="2.2" stroke-linecap="butt"/>
<line x1="1429.60" y1="933.30" x2="1429.60" y2="946.70" stroke="#000" stroke-width="2.2" stroke-linecap="butt"/>
<line x1="1423.50" y1="933.30" x2="1435.70" y2="933.30" stroke="#000" stroke-width="2.2" stroke-linecap="butt"/>
<line x1="1423.50" y1="946.70" x2="1435.70" y2="946.70" stroke="#000" stroke-width="2.2" stroke-linecap="butt"/>
<line x1="1536.20" y1="912.00" x2="1536.20" y2="927.30" stroke="#000" stroke-width="2.2" stroke-linecap="butt"/>
<line x1="1530.10" y1="912.00" x2="1542.30" y2="912.00" stroke="#000" stroke-width="2.2" stroke-linecap="butt"/>
<line x1="1530.10" y1="927.30" x2="1542.30" y2="927.30" stroke="#000" stroke-width="2.2" stroke-linecap="butt"/>
<line x1="1611.10" y1="896.20" x2="1611.10" y2="946.70" stroke="#000" stroke-width="2.2" stroke-linecap="butt"/>
<line x1="1605.00" y1="896.20" x2="1617.20" y2="896.20" stroke="#000" stroke-width="2.2" stroke-linecap="butt"/>
<line x1="1605.00" y1="946.70" x2="1617.20" y2="946.70" stroke="#000" stroke-width="2.2" stroke-linecap="butt"/>
<line x1="1643.30" y1="866.70" x2="1643.30" y2="915.60" stroke="#000" stroke-width="2.2" stroke-linecap="butt"/>
<line x1="1637.20" y1="866.70" x2="1649.40" y2="866.70" stroke="#000" stroke-width="2.2" stroke-linecap="butt"/>
<line x1="1637.20" y1="915.60" x2="1649.40" y2="915.60" stroke="#000" stroke-width="2.2" stroke-linecap="butt"/>
<line x1="1675.60" y1="812.20" x2="1675.60" y2="835.60" stroke="#000" stroke-width="2.2" stroke-linecap="butt"/>
<line x1="1669.50" y1="812.20" x2="1681.70" y2="812.20" stroke="#000" stroke-width="2.2" stroke-linecap="butt"/>
<line x1="1669.50" y1="835.60" x2="1681.70" y2="835.60" stroke="#000" stroke-width="2.2" stroke-linecap="butt"/>
<line x1="1718.20" y1="774.40" x2="1718.20" y2="817.10" stroke="#000" stroke-width="2.2" stroke-linecap="butt"/>
<line x1="1712.10" y1="774.40" x2="1724.30" y2="774.40" stroke="#000" stroke-width="2.2" stroke-linecap="butt"/>
<line x1="1712.10" y1="817.10" x2="1724.30" y2="817.10" stroke="#000" stroke-width="2.2" stroke-linecap="butt"/>
<line x1="1750.40" y1="760.00" x2="1750.40" y2="786.00" stroke="#000" stroke-width="2.2" stroke-linecap="butt"/>
<line x1="1744.30" y1="760.00" x2="1756.50" y2="760.00" stroke="#000" stroke-width="2.2" stroke-linecap="butt"/>
<line x1="1744.30" y1="786.00" x2="1756.50" y2="786.00" stroke="#000" stroke-width="2.2" stroke-linecap="butt"/>
<line x1="1782.20" y1="752.00" x2="1782.20" y2="770.00" stroke="#000" stroke-width="2.2" stroke-linecap="butt"/>
<line x1="1776.10" y1="752.00" x2="1788.30" y2="752.00" stroke="#000" stroke-width="2.2" stroke-linecap="butt"/>
<line x1="1776.10" y1="770.00" x2="1788.30" y2="770.00" stroke="#000" stroke-width="2.2" stroke-linecap="butt"/>
<rect x="1423.50" y="915.50" width="12.20" height="12.20" fill="#000" stroke="none" stroke-width="0"/>
<rect x="1530.10" y="907.90" width="12.20" height="12.20" fill="#000" stroke="none" stroke-width="0"/>
<rect x="1605.00" y="858.30" width="12.20" height="12.20" fill="#000" stroke="none" stroke-width="0"/>
<rect x="1637.20" y="802.80" width="12.20" height="12.20" fill="#000" stroke="none" stroke-width="0"/>
<rect x="1669.50" y="752.80" width="12.20" height="12.20" fill="#000" stroke="none" stroke-width="0"/>
<rect x="1712.10" y="756.10" width="12.20" height="12.20" fill="#000" stroke="none" stroke-width="0"/>
<rect x="1744.30" y="747.90" width="12.20" height="12.20" fill="#000" stroke="none" stroke-width="0"/>
<rect x="1776.10" y="750.60" width="12.20" height="12.20" fill="#000" stroke="none" stroke-width="0"/>
<circle cx="1429.60" cy="940.00" r="6.20" fill="#000" stroke="none" stroke-width="0"/>
<circle cx="1536.20" cy="917.80" r="6.20" fill="#000" stroke="none" stroke-width="0"/>
<circle cx="1611.10" cy="921.60" r="6.20" fill="#000" stroke="none" stroke-width="0"/>
<circle cx="1643.30" cy="891.10" r="6.20" fill="#000" stroke="none" stroke-width="0"/>
<circle cx="1675.60" cy="823.80" r="6.20" fill="#000" stroke="none" stroke-width="0"/>
<circle cx="1718.20" cy="792.20" r="6.20" fill="#000" stroke="none" stroke-width="0"/>
<circle cx="1750.40" cy="767.80" r="6.20" fill="#000" stroke="none" stroke-width="0"/>
<circle cx="1782.20" cy="758.90" r="6.20" fill="#000" stroke="none" stroke-width="0"/>
</svg>
</body></html>
